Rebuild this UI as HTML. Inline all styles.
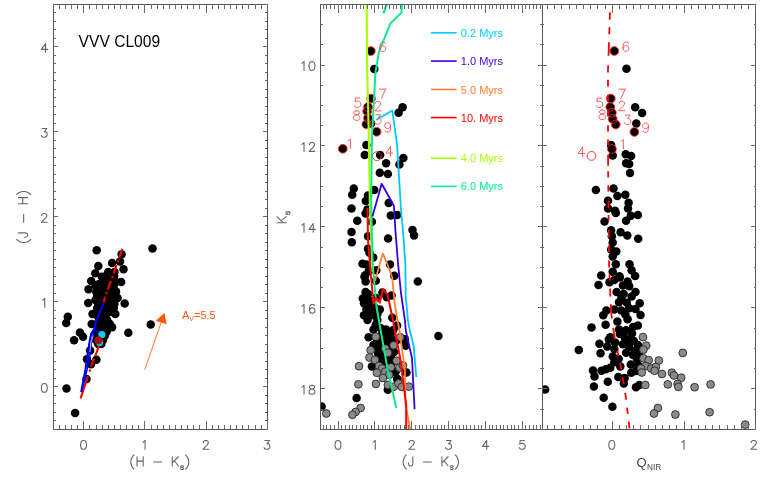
<!DOCTYPE html>
<html><head><meta charset="utf-8"><title>VVV CL009</title>
<style>
html,body{margin:0;padding:0;background:#fff;}
body{width:763px;height:477px;overflow:hidden;font-family:"Liberation Sans",sans-serif;}
svg{display:block;will-change:transform;font-family:"Liberation Sans",sans-serif;}
</style></head><body>
<svg width="763" height="477" viewBox="0 0 763 477">
<rect width="763" height="477" fill="#fff"/>
<clipPath id="c1"><rect x="53.30" y="4.40" width="213.70" height="424.90"/></clipPath>
<clipPath id="c2"><rect x="320.5" y="4.40" width="221.5" height="424.90"/></clipPath>
<clipPath id="c3"><rect x="542" y="4.40" width="213.8" height="424.90"/></clipPath>
<g clip-path="url(#c1)">
<g fill="#000"><circle cx="96.7" cy="250.3" r="4.25"/><circle cx="152.5" cy="248.4" r="4.25"/><circle cx="121.6" cy="254.2" r="4.25"/><circle cx="120.0" cy="261.4" r="4.25"/><circle cx="112.1" cy="263.0" r="4.25"/><circle cx="98.3" cy="266.0" r="4.25"/><circle cx="123.5" cy="269.3" r="4.25"/><circle cx="95.3" cy="273.2" r="4.25"/><circle cx="108.2" cy="272.0" r="4.25"/><circle cx="114.5" cy="272.0" r="4.25"/><circle cx="101.9" cy="276.7" r="4.25"/><circle cx="91.2" cy="280.9" r="4.25"/><circle cx="121.1" cy="281.9" r="4.25"/><circle cx="88.5" cy="289.3" r="4.25"/><circle cx="95.6" cy="285.3" r="4.25"/><circle cx="97.2" cy="294.8" r="4.25"/><circle cx="88.2" cy="302.9" r="4.25"/><circle cx="124.7" cy="303.5" r="4.25"/><circle cx="116.0" cy="291.6" r="4.25"/><circle cx="117.6" cy="298.0" r="4.25"/><circle cx="67.8" cy="316.7" r="4.25"/><circle cx="66.2" cy="323.0" r="4.25"/><circle cx="150.7" cy="324.6" r="4.25"/><circle cx="128.3" cy="332.7" r="4.25"/><circle cx="79.9" cy="332.4" r="4.25"/><circle cx="83.0" cy="336.7" r="4.25"/><circle cx="74.1" cy="340.3" r="4.25"/><circle cx="115.3" cy="313.9" r="4.25"/><circle cx="112.1" cy="327.2" r="4.25"/><circle cx="92.5" cy="313.9" r="4.25"/><circle cx="91.7" cy="324.1" r="4.25"/><circle cx="90.1" cy="350.4" r="4.25"/><circle cx="87.0" cy="359.3" r="4.25"/><circle cx="96.4" cy="359.8" r="4.25"/><circle cx="91.0" cy="364.2" r="4.25"/><circle cx="66.5" cy="388.5" r="4.25"/><circle cx="75.1" cy="412.9" r="4.25"/><circle cx="86.5" cy="379.1" r="4.25"/><circle cx="106.0" cy="276.0" r="4.25"/><circle cx="110.0" cy="276.0" r="4.25"/><circle cx="114.0" cy="276.0" r="4.25"/><circle cx="114.0" cy="276.0" r="4.25"/><circle cx="104.5" cy="280.0" r="4.25"/><circle cx="108.5" cy="280.0" r="4.25"/><circle cx="112.5" cy="280.0" r="4.25"/><circle cx="114.3" cy="280.0" r="4.25"/><circle cx="99.0" cy="284.0" r="4.25"/><circle cx="103.0" cy="284.0" r="4.25"/><circle cx="107.0" cy="284.0" r="4.25"/><circle cx="111.0" cy="284.0" r="4.25"/><circle cx="114.2" cy="284.0" r="4.25"/><circle cx="99.3" cy="288.0" r="4.25"/><circle cx="103.3" cy="288.0" r="4.25"/><circle cx="107.3" cy="288.0" r="4.25"/><circle cx="111.3" cy="288.0" r="4.25"/><circle cx="113.5" cy="288.0" r="4.25"/><circle cx="96.3" cy="292.0" r="4.25"/><circle cx="100.3" cy="292.0" r="4.25"/><circle cx="104.3" cy="292.0" r="4.25"/><circle cx="108.3" cy="292.0" r="4.25"/><circle cx="112.3" cy="292.0" r="4.25"/><circle cx="112.8" cy="292.0" r="4.25"/><circle cx="97.9" cy="296.0" r="4.25"/><circle cx="101.9" cy="296.0" r="4.25"/><circle cx="105.9" cy="296.0" r="4.25"/><circle cx="109.9" cy="296.0" r="4.25"/><circle cx="112.8" cy="296.0" r="4.25"/><circle cx="95.5" cy="300.0" r="4.25"/><circle cx="99.5" cy="300.0" r="4.25"/><circle cx="103.5" cy="300.0" r="4.25"/><circle cx="107.5" cy="300.0" r="4.25"/><circle cx="111.5" cy="300.0" r="4.25"/><circle cx="113.4" cy="300.0" r="4.25"/><circle cx="98.3" cy="304.0" r="4.25"/><circle cx="102.3" cy="304.0" r="4.25"/><circle cx="106.3" cy="304.0" r="4.25"/><circle cx="110.3" cy="304.0" r="4.25"/><circle cx="114.3" cy="304.0" r="4.25"/><circle cx="114.0" cy="304.0" r="4.25"/><circle cx="97.2" cy="308.0" r="4.25"/><circle cx="101.2" cy="308.0" r="4.25"/><circle cx="105.2" cy="308.0" r="4.25"/><circle cx="109.2" cy="308.0" r="4.25"/><circle cx="113.2" cy="308.0" r="4.25"/><circle cx="113.6" cy="308.0" r="4.25"/><circle cx="100.0" cy="312.0" r="4.25"/><circle cx="104.0" cy="312.0" r="4.25"/><circle cx="108.0" cy="312.0" r="4.25"/><circle cx="112.0" cy="312.0" r="4.25"/><circle cx="113.1" cy="312.0" r="4.25"/><circle cx="97.6" cy="316.0" r="4.25"/><circle cx="101.6" cy="316.0" r="4.25"/><circle cx="105.6" cy="316.0" r="4.25"/><circle cx="99.2" cy="320.0" r="4.25"/><circle cx="103.2" cy="320.0" r="4.25"/><circle cx="107.2" cy="320.0" r="4.25"/><circle cx="96.8" cy="324.0" r="4.25"/><circle cx="100.8" cy="324.0" r="4.25"/><circle cx="104.8" cy="324.0" r="4.25"/><circle cx="108.8" cy="324.0" r="4.25"/><circle cx="109.9" cy="324.0" r="4.25"/><circle cx="98.2" cy="328.0" r="4.25"/><circle cx="102.2" cy="328.0" r="4.25"/><circle cx="106.2" cy="328.0" r="4.25"/><circle cx="108.5" cy="328.0" r="4.25"/><circle cx="96.0" cy="332.0" r="4.25"/><circle cx="100.0" cy="332.0" r="4.25"/><circle cx="104.0" cy="332.0" r="4.25"/><circle cx="106.5" cy="332.0" r="4.25"/><circle cx="98.0" cy="336.0" r="4.25"/><circle cx="102.0" cy="336.0" r="4.25"/><circle cx="104.6" cy="336.0" r="4.25"/><circle cx="96.0" cy="340.0" r="4.25"/><circle cx="100.0" cy="340.0" r="4.25"/><circle cx="103.0" cy="340.0" r="4.25"/><circle cx="98.3" cy="344.0" r="4.25"/><circle cx="101.3" cy="344.0" r="4.25"/></g>
<polyline points="122.3,248.8 112.9,275.6 105.4,296.0 103.7,302.3" fill="none" stroke="#ff0000" stroke-width="2.1" stroke-dasharray="9 3 2 3"/>
<polyline points="99.3,345.0 98.8,346.3 95.6,355.0 92.5,362.6 80.6,398.4" fill="none" stroke="#ff0000" stroke-width="2.1" stroke-dasharray="11.5 3.2 8.3 3 2.5 4.9 30"/>
<polyline points="103.5,302.9 95.6,323.0 94.3,329.9 91.2,333.7 89.9,340.0 87.4,356.0 85.4,370.0 81.2,392.1" fill="none" stroke="#0000ff" stroke-width="2.1" stroke-linejoin="round"/>
<polyline points="100.0,332.4 94.3,329.9 91.8,340.0 89.9,356.0 87.0,370.0 81.6,392.1" fill="none" stroke="#0000ff" stroke-width="1.4" stroke-linejoin="round"/>
<polyline points="92.6,336.5 91.0,343 89.8,352" fill="none" stroke="#c4c8ff" stroke-width="0.9"/>
<g fill="#10c8f0"><circle cx="101.9" cy="334.6" r="3.60"/><circle cx="99.5" cy="342.4" r="3.60"/></g>
<g fill="#a01414"><circle cx="98.4" cy="340.3" r="4.15"/></g>
</g>
<line x1="144.8" y1="369.7" x2="161.2" y2="322.2" stroke="#ff6a20" stroke-width="0.9"/>
<polygon points="164.4,313.1 155.7,320.7 166.7,324.3" fill="#ff5a10"/>
<text x="182" y="319.2" font-size="11" fill="#ff5a10">A<tspan font-size="7" dy="2.2">V</tspan><tspan dy="-2.2">=5.5</tspan></text>
<text x="78.6" y="47" font-size="15.6" fill="#000">VVV CL009</text>
<g clip-path="url(#c2)">
<g fill="#000"><circle cx="370.8" cy="51.1" r="4.25"/><circle cx="374.3" cy="68.9" r="4.25"/><circle cx="371.1" cy="98.6" r="4.25"/><circle cx="368.0" cy="107.0" r="4.25"/><circle cx="367.2" cy="111.2" r="4.25"/><circle cx="368.0" cy="118.0" r="4.25"/><circle cx="366.4" cy="124.3" r="4.25"/><circle cx="371.1" cy="123.5" r="4.25"/><circle cx="376.6" cy="131.8" r="4.25"/><circle cx="402.6" cy="107.3" r="4.25"/><circle cx="398.6" cy="112.8" r="4.25"/><circle cx="342.8" cy="148.8" r="4.25"/><circle cx="366.4" cy="145.0" r="4.25"/><circle cx="364.8" cy="155.1" r="4.25"/><circle cx="380.2" cy="155.1" r="4.25"/><circle cx="386.1" cy="163.3" r="4.25"/><circle cx="403.4" cy="158.1" r="4.25"/><circle cx="399.4" cy="164.6" r="4.25"/><circle cx="379.8" cy="172.7" r="4.25"/><circle cx="387.9" cy="174.0" r="4.25"/><circle cx="353.8" cy="188.5" r="4.25"/><circle cx="352.2" cy="194.8" r="4.25"/><circle cx="374.3" cy="190.0" r="4.25"/><circle cx="368.0" cy="195.6" r="4.25"/><circle cx="365.8" cy="200.9" r="4.25"/><circle cx="388.7" cy="203.0" r="4.25"/><circle cx="351.5" cy="208.4" r="4.25"/><circle cx="367.4" cy="209.6" r="4.25"/><circle cx="365.6" cy="213.4" r="4.25"/><circle cx="390.8" cy="215.4" r="4.25"/><circle cx="397.1" cy="214.9" r="4.25"/><circle cx="357.3" cy="220.8" r="4.25"/><circle cx="371.9" cy="221.7" r="4.25"/><circle cx="351.5" cy="231.9" r="4.25"/><circle cx="368.0" cy="236.2" r="4.25"/><circle cx="388.1" cy="238.5" r="4.25"/><circle cx="412.5" cy="229.9" r="4.25"/><circle cx="414.1" cy="235.4" r="4.25"/><circle cx="351.8" cy="242.2" r="4.25"/><circle cx="368.0" cy="248.8" r="4.25"/><circle cx="369.5" cy="252.7" r="4.25"/><circle cx="373.2" cy="257.4" r="4.25"/><circle cx="362.5" cy="263.7" r="4.25"/><circle cx="366.4" cy="264.5" r="4.25"/><circle cx="390.0" cy="264.6" r="4.25"/><circle cx="368.8" cy="270.9" r="4.25"/><circle cx="376.3" cy="270.2" r="4.25"/><circle cx="365.2" cy="275.2" r="4.25"/><circle cx="394.3" cy="275.8" r="4.25"/><circle cx="364.5" cy="276.8" r="4.25"/><circle cx="365.6" cy="281.5" r="4.25"/><circle cx="375.8" cy="280.7" r="4.25"/><circle cx="417.8" cy="281.5" r="4.25"/><circle cx="365.6" cy="292.1" r="4.25"/><circle cx="368.0" cy="294.1" r="4.25"/><circle cx="382.4" cy="292.5" r="4.25"/><circle cx="391.6" cy="295.4" r="4.25"/><circle cx="386.8" cy="297.2" r="4.25"/><circle cx="375.8" cy="298.0" r="4.25"/><circle cx="364.0" cy="303.2" r="4.25"/><circle cx="368.0" cy="304.3" r="4.25"/><circle cx="371.1" cy="301.2" r="4.25"/><circle cx="366.4" cy="309.0" r="4.25"/><circle cx="374.3" cy="306.7" r="4.25"/><circle cx="379.8" cy="309.5" r="4.25"/><circle cx="364.0" cy="315.3" r="4.25"/><circle cx="371.1" cy="315.3" r="4.25"/><circle cx="377.4" cy="313.8" r="4.25"/><circle cx="392.3" cy="317.7" r="4.25"/><circle cx="377.4" cy="320.0" r="4.25"/><circle cx="375.8" cy="324.8" r="4.25"/><circle cx="397.1" cy="325.6" r="4.25"/><circle cx="373.5" cy="329.5" r="4.25"/><circle cx="386.1" cy="329.5" r="4.25"/><circle cx="380.6" cy="327.9" r="4.25"/><circle cx="393.1" cy="330.3" r="4.25"/><circle cx="368.6" cy="337.2" r="4.25"/><circle cx="389.2" cy="337.8" r="4.25"/><circle cx="404.9" cy="339.2" r="4.25"/><circle cx="438.4" cy="335.9" r="4.25"/><circle cx="405.7" cy="345.7" r="4.25"/><circle cx="373.5" cy="344.9" r="4.25"/><circle cx="379.8" cy="347.3" r="4.25"/><circle cx="378.2" cy="353.6" r="4.25"/><circle cx="382.9" cy="356.7" r="4.25"/><circle cx="390.8" cy="356.7" r="4.25"/><circle cx="371.9" cy="366.6" r="4.25"/><circle cx="386.1" cy="363.8" r="4.25"/><circle cx="395.5" cy="371.7" r="4.25"/><circle cx="406.5" cy="372.5" r="4.25"/><circle cx="397.1" cy="378.8" r="4.25"/><circle cx="387.8" cy="389.8" r="4.25"/><circle cx="356.6" cy="398.0" r="4.25"/><circle cx="321.6" cy="406.5" r="4.25"/><circle cx="384.0" cy="341.0" r="4.25"/><circle cx="382.0" cy="334.0" r="4.25"/><circle cx="389.0" cy="345.0" r="4.25"/><circle cx="385.0" cy="351.0" r="4.25"/><circle cx="394.0" cy="352.0" r="4.25"/><circle cx="377.0" cy="340.0" r="4.25"/><circle cx="381.0" cy="345.0" r="4.25"/><circle cx="388.0" cy="341.0" r="4.25"/><circle cx="383.0" cy="350.0" r="4.25"/><circle cx="387.0" cy="347.0" r="4.25"/><circle cx="379.0" cy="356.0" r="4.25"/><circle cx="383.0" cy="357.0" r="4.25"/><circle cx="387.0" cy="360.0" r="4.25"/><circle cx="391.0" cy="353.0" r="4.25"/><circle cx="380.0" cy="362.0" r="4.25"/><circle cx="385.0" cy="364.0" r="4.25"/><circle cx="377.0" cy="347.0" r="4.25"/><circle cx="392.0" cy="339.0" r="4.25"/><circle cx="396.0" cy="341.0" r="4.25"/><circle cx="391.0" cy="333.0" r="4.25"/><circle cx="386.0" cy="334.0" r="4.25"/><circle cx="404.0" cy="341.0" r="4.25"/><circle cx="395.2" cy="372.0" r="4.25"/><circle cx="397.4" cy="379.3" r="4.25"/><circle cx="389.0" cy="366.0" r="4.25"/><circle cx="393.0" cy="362.0" r="4.25"/><circle cx="366.5" cy="298.5" r="4.25"/><circle cx="369.5" cy="310.5" r="4.25"/><circle cx="367.5" cy="320.0" r="4.25"/><circle cx="371.0" cy="308.0" r="4.25"/><circle cx="362.8" cy="298.5" r="4.25"/><circle cx="376.0" cy="316.0" r="4.25"/></g>
<g fill="#8a8a8a" stroke="#1a1a1a" stroke-width="0.8"><circle cx="375.8" cy="336.7" r="3.90"/><circle cx="400.2" cy="337.2" r="3.90"/><circle cx="393.6" cy="345.3" r="3.90"/><circle cx="370.6" cy="350.1" r="3.90"/><circle cx="385.3" cy="348.6" r="3.90"/><circle cx="387.9" cy="352.8" r="3.90"/><circle cx="369.5" cy="357.5" r="3.90"/><circle cx="375.0" cy="359.9" r="3.90"/><circle cx="396.6" cy="360.7" r="3.90"/><circle cx="359.0" cy="366.2" r="3.90"/><circle cx="379.0" cy="365.9" r="3.90"/><circle cx="382.1" cy="368.5" r="3.90"/><circle cx="390.8" cy="367.3" r="3.90"/><circle cx="399.4" cy="367.7" r="3.90"/><circle cx="403.0" cy="365.4" r="3.90"/><circle cx="376.9" cy="372.8" r="3.90"/><circle cx="385.3" cy="371.7" r="3.90"/><circle cx="389.2" cy="374.8" r="3.90"/><circle cx="382.9" cy="378.0" r="3.90"/><circle cx="358.4" cy="384.3" r="3.90"/><circle cx="375.9" cy="383.9" r="3.90"/><circle cx="387.9" cy="385.0" r="3.90"/><circle cx="393.9" cy="386.6" r="3.90"/><circle cx="398.6" cy="383.5" r="3.90"/><circle cx="401.8" cy="386.9" r="3.90"/><circle cx="408.9" cy="386.6" r="3.90"/><circle cx="326.3" cy="413.5" r="3.90"/><circle cx="360.6" cy="408.0" r="3.90"/><circle cx="355.6" cy="412.0" r="3.90"/><circle cx="352.4" cy="414.8" r="3.90"/></g>
<g fill="none" stroke="#ff2020" stroke-width="0.9"><circle cx="370.8" cy="51.1" r="4.40"/><circle cx="371.1" cy="98.6" r="4.40"/><circle cx="368.0" cy="107.0" r="4.40"/><circle cx="367.2" cy="111.2" r="4.40"/><circle cx="368.0" cy="118.0" r="4.40"/><circle cx="366.4" cy="124.3" r="4.40"/><circle cx="376.6" cy="131.8" r="4.40"/><circle cx="342.8" cy="148.8" r="4.40"/><circle cx="376.9" cy="156.2" r="4.40"/></g>
<polyline points="366.7,4.4 367.2,70.0 368.8,135.0 369.8,200.0 372.4,272.0" fill="none" stroke="#aaff00" stroke-width="2.1" stroke-linejoin="round"/>
<polyline points="386.8,4.4 383.4,13.4" fill="none" stroke="#10e88c" stroke-width="2.3" stroke-linejoin="round"/>
<polyline points="401.8,4.4 401.5,12.6 390.3,23.6 379.0,51.9 375.5,72.0 372.0,135.0 371.1,200.0 372.7,265.0 376.6,307.5 380.6,330.0 387.6,369.3 396.3,408.0" fill="none" stroke="#10e88c" stroke-width="2.0" stroke-linejoin="round"/>
<polyline points="376.1,120.0 392.3,110.4 397.1,145.0 401.0,210.0 403.4,236.2 405.4,265.0 405.7,296.5 408.1,321.6 409.7,330.0 413.6,345.7 416.3,377.2" fill="none" stroke="#00c8ff" stroke-width="1.8" stroke-linejoin="round"/>
<polyline points="372.4,216.5 381.7,183.8 393.9,205.8 395.5,231.5 397.1,251.9 398.2,265.0 401.0,293.3 404.9,320.0 405.7,330.0 412.0,358.3 414.4,405.0 414.6,409.3" fill="none" stroke="#3a00e0" stroke-width="1.8" stroke-linejoin="round"/>
<polyline points="375.0,280.7 379.5,265.0 382.9,253.5 387.6,265.0 392.3,277.6 394.7,304.3 399.4,330.0 404.9,369.3 405.4,403.3 410.2,429.3" fill="none" stroke="#ff8030" stroke-width="1.8" stroke-linejoin="round"/>
<polyline points="367.5,207.9 368.0,239.3 370.0,265.0 373.5,303.5 375.8,298.0 379.8,302.7 382.9,289.4 387.6,294.9 393.0,320.0 394.7,330.0 400.2,358.3 406.2,405.0 406.2,429.3" fill="none" stroke="#ff0000" stroke-width="2.0" stroke-linejoin="round"/>
</g>
<path d="M385.30 43.50 L384.85 42.60 L383.50 42.15 L382.60 42.15 L381.25 42.60 L380.35 43.95 L379.90 46.20 L379.90 48.45 L380.35 50.25 L381.25 51.15 L382.60 51.60 L383.05 51.60 L384.40 51.15 L385.30 50.25 L385.75 48.90 L385.75 48.45 L385.30 47.10 L384.40 46.20 L383.05 45.75 L382.60 45.75 L381.25 46.20 L380.35 47.10 L379.90 48.45" fill="none" stroke="#ff4848" stroke-width="0.9" stroke-linecap="round" stroke-linejoin="round" />
<path d="M385.75 89.15 L381.25 98.60 M379.45 89.15 L385.75 89.15" fill="none" stroke="#ff4848" stroke-width="0.9" stroke-linecap="round" stroke-linejoin="round" />
<path d="M375.20 103.70 L375.20 103.25 L375.65 102.35 L376.10 101.90 L377.00 101.45 L378.80 101.45 L379.70 101.90 L380.15 102.35 L380.60 103.25 L380.60 104.15 L380.15 105.05 L379.25 106.40 L374.75 110.90 L381.05 110.90" fill="none" stroke="#ff4848" stroke-width="0.9" stroke-linecap="round" stroke-linejoin="round" />
<path d="M359.95 97.95 L355.45 97.95 L355.00 102.00 L355.45 101.55 L356.80 101.10 L358.15 101.10 L359.50 101.55 L360.40 102.45 L360.85 103.80 L360.85 104.70 L360.40 106.05 L359.50 106.95 L358.15 107.40 L356.80 107.40 L355.45 106.95 L355.00 106.50 L354.55 105.60" fill="none" stroke="#ff4848" stroke-width="0.9" stroke-linecap="round" stroke-linejoin="round" />
<path d="M355.70 110.85 L354.35 111.30 L353.90 112.20 L353.90 113.10 L354.35 114.00 L355.25 114.45 L357.05 114.90 L358.40 115.35 L359.30 116.25 L359.75 117.15 L359.75 118.50 L359.30 119.40 L358.85 119.85 L357.50 120.30 L355.70 120.30 L354.35 119.85 L353.90 119.40 L353.45 118.50 L353.45 117.15 L353.90 116.25 L354.80 115.35 L356.15 114.90 L357.95 114.45 L358.85 114.00 L359.30 113.10 L359.30 112.20 L358.85 111.30 L357.50 110.85 L355.70 110.85" fill="none" stroke="#ff4848" stroke-width="0.9" stroke-linecap="round" stroke-linejoin="round" />
<path d="M375.65 114.75 L380.60 114.75 L377.90 118.35 L379.25 118.35 L380.15 118.80 L380.60 119.25 L381.05 120.60 L381.05 121.50 L380.60 122.85 L379.70 123.75 L378.35 124.20 L377.00 124.20 L375.65 123.75 L375.20 123.30 L374.75 122.40" fill="none" stroke="#ff4848" stroke-width="0.9" stroke-linecap="round" stroke-linejoin="round" />
<path d="M390.60 125.80 L390.15 127.15 L389.25 128.05 L387.90 128.50 L387.45 128.50 L386.10 128.05 L385.20 127.15 L384.75 125.80 L384.75 125.35 L385.20 124.00 L386.10 123.10 L387.45 122.65 L387.90 122.65 L389.25 123.10 L390.15 124.00 L390.60 125.80 L390.60 128.05 L390.15 130.30 L389.25 131.65 L387.90 132.10 L387.00 132.10 L385.65 131.65 L385.20 130.75" fill="none" stroke="#ff4848" stroke-width="0.9" stroke-linecap="round" stroke-linejoin="round" />
<path d="M348.20 140.65 L349.10 140.20 L350.45 138.85 L350.45 148.30" fill="none" stroke="#ff4848" stroke-width="0.9" stroke-linecap="round" stroke-linejoin="round" />
<path d="M390.55 146.75 L386.05 153.05 L392.80 153.05 M390.55 146.75 L390.55 156.20" fill="none" stroke="#ff4848" stroke-width="0.9" stroke-linecap="round" stroke-linejoin="round" />
<line x1="431" y1="32.8" x2="456.6" y2="32.8" stroke="#00ccff" stroke-width="1.6"/>
<text x="460.8" y="36.8" font-size="11" fill="#00ccff">0.2 Myrs</text>
<line x1="431" y1="61.1" x2="456.6" y2="61.1" stroke="#3a00e0" stroke-width="1.6"/>
<text x="460.8" y="65.1" font-size="11" fill="#3a00e0">1.0 Myrs</text>
<line x1="431" y1="89.5" x2="456.6" y2="89.5" stroke="#ff8030" stroke-width="1.6"/>
<text x="460.8" y="93.5" font-size="11" fill="#ff8030">5.0 Myrs</text>
<line x1="431" y1="117.6" x2="456.6" y2="117.6" stroke="#ff0000" stroke-width="1.6"/>
<text x="460.8" y="121.6" font-size="11" fill="#ff0000">10. Myrs</text>
<line x1="431" y1="158.2" x2="456.6" y2="158.2" stroke="#aaff00" stroke-width="1.6"/>
<text x="460.8" y="162.2" font-size="11" fill="#aaff00">4.0 Myrs</text>
<line x1="431" y1="186.4" x2="456.6" y2="186.4" stroke="#00ee90" stroke-width="1.6"/>
<text x="460.8" y="190.4" font-size="11" fill="#00ee90">6.0 Myrs</text>
<g clip-path="url(#c3)">
<g fill="#000"><circle cx="614.3" cy="51.0" r="4.25"/><circle cx="626.5" cy="68.8" r="4.25"/><circle cx="610.8" cy="98.6" r="4.25"/><circle cx="610.3" cy="106.9" r="4.25"/><circle cx="611.9" cy="112.7" r="4.25"/><circle cx="612.7" cy="119.0" r="4.25"/><circle cx="615.8" cy="124.5" r="4.25"/><circle cx="635.2" cy="107.2" r="4.25"/><circle cx="642.1" cy="113.1" r="4.25"/><circle cx="636.3" cy="123.4" r="4.25"/><circle cx="634.4" cy="131.9" r="4.25"/><circle cx="611.1" cy="145.1" r="4.25"/><circle cx="611.9" cy="149.1" r="4.25"/><circle cx="612.7" cy="155.4" r="4.25"/><circle cx="625.7" cy="154.2" r="4.25"/><circle cx="631.1" cy="155.9" r="4.25"/><circle cx="626.1" cy="163.3" r="4.25"/><circle cx="629.2" cy="164.1" r="4.25"/><circle cx="630.0" cy="173.1" r="4.25"/><circle cx="595.9" cy="190.0" r="4.25"/><circle cx="613.5" cy="188.5" r="4.25"/><circle cx="617.4" cy="196.0" r="4.25"/><circle cx="625.3" cy="194.8" r="4.25"/><circle cx="608.0" cy="200.8" r="4.25"/><circle cx="628.6" cy="202.8" r="4.25"/><circle cx="608.0" cy="208.6" r="4.25"/><circle cx="628.0" cy="208.4" r="4.25"/><circle cx="615.0" cy="210.8" r="4.25"/><circle cx="615.8" cy="212.9" r="4.25"/><circle cx="637.9" cy="214.9" r="4.25"/><circle cx="630.8" cy="215.7" r="4.25"/><circle cx="626.1" cy="220.8" r="4.25"/><circle cx="604.5" cy="221.5" r="4.25"/><circle cx="611.1" cy="230.2" r="4.25"/><circle cx="620.6" cy="232.2" r="4.25"/><circle cx="627.3" cy="235.4" r="4.25"/><circle cx="638.2" cy="238.8" r="4.25"/><circle cx="611.9" cy="236.2" r="4.25"/><circle cx="612.7" cy="242.5" r="4.25"/><circle cx="611.1" cy="249.5" r="4.25"/><circle cx="616.3" cy="251.6" r="4.25"/><circle cx="612.7" cy="256.6" r="4.25"/><circle cx="615.8" cy="264.2" r="4.25"/><circle cx="629.5" cy="264.3" r="4.25"/><circle cx="631.6" cy="270.2" r="4.25"/><circle cx="612.7" cy="271.8" r="4.25"/><circle cx="601.2" cy="275.5" r="4.25"/><circle cx="619.4" cy="276.3" r="4.25"/><circle cx="635.1" cy="275.9" r="4.25"/><circle cx="619.8" cy="277.6" r="4.25"/><circle cx="614.3" cy="279.9" r="4.25"/><circle cx="609.5" cy="282.3" r="4.25"/><circle cx="627.6" cy="281.5" r="4.25"/><circle cx="598.5" cy="285.1" r="4.25"/><circle cx="622.9" cy="285.4" r="4.25"/><circle cx="629.2" cy="286.2" r="4.25"/><circle cx="616.6" cy="292.1" r="4.25"/><circle cx="635.5" cy="292.1" r="4.25"/><circle cx="623.7" cy="294.1" r="4.25"/><circle cx="631.6" cy="296.5" r="4.25"/><circle cx="621.3" cy="298.0" r="4.25"/><circle cx="619.0" cy="302.3" r="4.25"/><circle cx="626.8" cy="302.7" r="4.25"/><circle cx="639.7" cy="303.2" r="4.25"/><circle cx="629.2" cy="308.3" r="4.25"/><circle cx="614.3" cy="309.5" r="4.25"/><circle cx="606.4" cy="310.6" r="4.25"/><circle cx="621.3" cy="310.6" r="4.25"/><circle cx="635.5" cy="309.0" r="4.25"/><circle cx="603.3" cy="315.3" r="4.25"/><circle cx="625.3" cy="314.5" r="4.25"/><circle cx="640.5" cy="315.0" r="4.25"/><circle cx="627.6" cy="319.3" r="4.25"/><circle cx="617.4" cy="321.6" r="4.25"/><circle cx="605.6" cy="324.8" r="4.25"/><circle cx="591.5" cy="327.4" r="4.25"/><circle cx="637.9" cy="325.6" r="4.25"/><circle cx="633.1" cy="327.1" r="4.25"/><circle cx="619.0" cy="329.5" r="4.25"/><circle cx="626.1" cy="330.3" r="4.25"/><circle cx="610.3" cy="337.3" r="4.25"/><circle cx="619.8" cy="334.0" r="4.25"/><circle cx="632.0" cy="333.6" r="4.25"/><circle cx="578.8" cy="350.1" r="4.25"/><circle cx="599.4" cy="343.8" r="4.25"/><circle cx="600.5" cy="353.3" r="4.25"/><circle cx="608.8" cy="339.4" r="4.25"/><circle cx="607.2" cy="346.5" r="4.25"/><circle cx="615.0" cy="342.6" r="4.25"/><circle cx="614.3" cy="348.9" r="4.25"/><circle cx="622.9" cy="344.2" r="4.25"/><circle cx="633.9" cy="341.0" r="4.25"/><circle cx="629.2" cy="347.3" r="4.25"/><circle cx="626.1" cy="352.8" r="4.25"/><circle cx="635.5" cy="350.4" r="4.25"/><circle cx="612.8" cy="356.4" r="4.25"/><circle cx="618.7" cy="359.0" r="4.25"/><circle cx="614.3" cy="362.2" r="4.25"/><circle cx="637.1" cy="359.1" r="4.25"/><circle cx="630.8" cy="364.5" r="4.25"/><circle cx="620.3" cy="366.6" r="4.25"/><circle cx="610.3" cy="367.7" r="4.25"/><circle cx="605.9" cy="369.2" r="4.25"/><circle cx="601.5" cy="370.8" r="4.25"/><circle cx="593.0" cy="370.4" r="4.25"/><circle cx="594.5" cy="376.6" r="4.25"/><circle cx="631.3" cy="372.8" r="4.25"/><circle cx="618.3" cy="377.1" r="4.25"/><circle cx="624.7" cy="378.0" r="4.25"/><circle cx="607.8" cy="381.7" r="4.25"/><circle cx="623.8" cy="383.4" r="4.25"/><circle cx="593.9" cy="386.6" r="4.25"/><circle cx="636.0" cy="387.3" r="4.25"/><circle cx="639.3" cy="384.9" r="4.25"/><circle cx="603.7" cy="397.8" r="4.25"/><circle cx="612.4" cy="406.8" r="4.25"/><circle cx="545.2" cy="389.5" r="4.25"/><circle cx="625.0" cy="338.0" r="4.25"/><circle cx="628.0" cy="340.0" r="4.25"/><circle cx="638.0" cy="345.0" r="4.25"/><circle cx="639.0" cy="353.0" r="4.25"/><circle cx="633.0" cy="355.0" r="4.25"/><circle cx="638.0" cy="365.0" r="4.25"/><circle cx="636.0" cy="371.0" r="4.25"/></g>
<g fill="#8a8a8a" stroke="#1a1a1a" stroke-width="0.8"><circle cx="643.0" cy="337.1" r="3.90"/><circle cx="646.2" cy="345.6" r="3.90"/><circle cx="643.4" cy="349.7" r="3.90"/><circle cx="643.4" cy="358.3" r="3.90"/><circle cx="648.7" cy="360.2" r="3.90"/><circle cx="658.8" cy="360.5" r="3.90"/><circle cx="645.7" cy="366.2" r="3.90"/><circle cx="641.0" cy="368.5" r="3.90"/><circle cx="651.2" cy="368.5" r="3.90"/><circle cx="655.9" cy="367.0" r="3.90"/><circle cx="641.8" cy="372.5" r="3.90"/><circle cx="654.6" cy="370.8" r="3.90"/><circle cx="662.0" cy="374.0" r="3.90"/><circle cx="671.9" cy="372.7" r="3.90"/><circle cx="674.0" cy="375.5" r="3.90"/><circle cx="681.2" cy="377.7" r="3.90"/><circle cx="645.3" cy="385.0" r="3.90"/><circle cx="667.8" cy="384.4" r="3.90"/><circle cx="677.6" cy="384.0" r="3.90"/><circle cx="678.4" cy="386.9" r="3.90"/><circle cx="694.6" cy="387.2" r="3.90"/><circle cx="710.6" cy="384.4" r="3.90"/><circle cx="682.8" cy="352.9" r="3.90"/><circle cx="657.9" cy="408.0" r="3.90"/><circle cx="654.0" cy="413.5" r="3.90"/><circle cx="675.4" cy="414.5" r="3.90"/><circle cx="709.6" cy="412.2" r="3.90"/><circle cx="745.2" cy="424.6" r="3.90"/></g>
<g fill="none" stroke="#ff2020" stroke-width="0.9"><circle cx="614.3" cy="51.0" r="4.40"/><circle cx="610.8" cy="98.6" r="4.40"/><circle cx="610.3" cy="106.9" r="4.40"/><circle cx="611.9" cy="112.7" r="4.40"/><circle cx="612.7" cy="119.0" r="4.40"/><circle cx="615.8" cy="124.5" r="4.40"/><circle cx="634.4" cy="131.9" r="4.40"/><circle cx="611.9" cy="149.0" r="4.40"/><circle cx="591.5" cy="155.9" r="4.40"/></g>
<path d="M610.00 12.30 L609.74 19.70 M609.49 27.10 L609.24 34.30 M608.96 42.20 L608.49 55.80 M608.16 65.30 L608.00 70.00 L608.00 72.40 M608.00 79.70 L608.00 86.80 M608.00 94.70 L608.00 101.50 M608.00 109.50 L608.00 116.50 M608.00 125.30 L608.00 131.60 M608.00 139.60 L608.00 145.00 M608.04 154.70 L608.13 165.70 M608.17 171.20 L608.22 177.50 M608.28 185.30 L608.33 191.60 M608.41 200.50 L608.49 208.50 M608.56 214.90 L608.62 220.40 M608.72 229.90 L608.81 237.70 M608.89 245.60 L608.96 251.90 M609.05 260.60 L609.10 265.00 L609.21 267.50 M609.50 274.40 L609.77 280.70 M610.10 288.60 L610.30 293.30 L610.44 296.50 M610.77 304.30 L611.10 312.20 L611.95 318.50 M613.23 327.90 L614.30 335.80 L615.00 339.20 M617.33 350.40 L618.49 356.00 M619.94 363.00 L620.60 366.20 L621.16 369.30 M622.57 377.20 L623.70 383.50 L623.82 384.30 M625.14 392.90 L626.10 399.20 L626.15 399.60 M627.07 407.60 L627.80 413.90 M628.69 421.50 L629.51 428.50" fill="none" stroke="#ff0000" stroke-width="1.8"/>
</g>
<path d="M628.40 43.30 L627.95 42.40 L626.60 41.95 L625.70 41.95 L624.35 42.40 L623.45 43.75 L623.00 46.00 L623.00 48.25 L623.45 50.05 L624.35 50.95 L625.70 51.40 L626.15 51.40 L627.50 50.95 L628.40 50.05 L628.85 48.70 L628.85 48.25 L628.40 46.90 L627.50 46.00 L626.15 45.55 L625.70 45.55 L624.35 46.00 L623.45 46.90 L623.00 48.25" fill="none" stroke="#ff4848" stroke-width="0.9" stroke-linecap="round" stroke-linejoin="round" />
<path d="M625.25 89.15 L620.75 98.60 M618.95 89.15 L625.25 89.15" fill="none" stroke="#ff4848" stroke-width="0.9" stroke-linecap="round" stroke-linejoin="round" />
<path d="M601.85 98.05 L597.35 98.05 L596.90 102.10 L597.35 101.65 L598.70 101.20 L600.05 101.20 L601.40 101.65 L602.30 102.55 L602.75 103.90 L602.75 104.80 L602.30 106.15 L601.40 107.05 L600.05 107.50 L598.70 107.50 L597.35 107.05 L596.90 106.60 L596.45 105.70" fill="none" stroke="#ff4848" stroke-width="0.9" stroke-linecap="round" stroke-linejoin="round" />
<path d="M619.10 103.50 L619.10 103.05 L619.55 102.15 L620.00 101.70 L620.90 101.25 L622.70 101.25 L623.60 101.70 L624.05 102.15 L624.50 103.05 L624.50 103.95 L624.05 104.85 L623.15 106.20 L618.65 110.70 L624.95 110.70" fill="none" stroke="#ff4848" stroke-width="0.9" stroke-linecap="round" stroke-linejoin="round" />
<path d="M601.30 110.05 L599.95 110.50 L599.50 111.40 L599.50 112.30 L599.95 113.20 L600.85 113.65 L602.65 114.10 L604.00 114.55 L604.90 115.45 L605.35 116.35 L605.35 117.70 L604.90 118.60 L604.45 119.05 L603.10 119.50 L601.30 119.50 L599.95 119.05 L599.50 118.60 L599.05 117.70 L599.05 116.35 L599.50 115.45 L600.40 114.55 L601.75 114.10 L603.55 113.65 L604.45 113.20 L604.90 112.30 L604.90 111.40 L604.45 110.50 L603.10 110.05 L601.30 110.05" fill="none" stroke="#ff4848" stroke-width="0.9" stroke-linecap="round" stroke-linejoin="round" />
<path d="M625.35 115.05 L630.30 115.05 L627.60 118.65 L628.95 118.65 L629.85 119.10 L630.30 119.55 L630.75 120.90 L630.75 121.80 L630.30 123.15 L629.40 124.05 L628.05 124.50 L626.70 124.50 L625.35 124.05 L624.90 123.60 L624.45 122.70" fill="none" stroke="#ff4848" stroke-width="0.9" stroke-linecap="round" stroke-linejoin="round" />
<path d="M648.40 126.10 L647.95 127.45 L647.05 128.35 L645.70 128.80 L645.25 128.80 L643.90 128.35 L643.00 127.45 L642.55 126.10 L642.55 125.65 L643.00 124.30 L643.90 123.40 L645.25 122.95 L645.70 122.95 L647.05 123.40 L647.95 124.30 L648.40 126.10 L648.40 128.35 L647.95 130.60 L647.05 131.95 L645.70 132.40 L644.80 132.40 L643.45 131.95 L643.00 131.05" fill="none" stroke="#ff4848" stroke-width="0.9" stroke-linecap="round" stroke-linejoin="round" />
<path d="M621.10 141.15 L622.00 140.70 L623.35 139.35 L623.35 148.80" fill="none" stroke="#ff4848" stroke-width="0.9" stroke-linecap="round" stroke-linejoin="round" />
<path d="M582.55 147.25 L578.05 153.55 L584.80 153.55 M582.55 147.25 L582.55 156.70" fill="none" stroke="#ff4848" stroke-width="0.9" stroke-linecap="round" stroke-linejoin="round" />
<rect x="53.30" y="4.40" width="213.70" height="424.90" fill="none" stroke="#555" stroke-width="1" shape-rendering="crispEdges"/>
<rect x="320.50" y="4.40" width="221.50" height="424.90" fill="none" stroke="#555" stroke-width="1" shape-rendering="crispEdges"/>
<rect x="542.00" y="4.40" width="213.80" height="424.90" fill="none" stroke="#555" stroke-width="1" shape-rendering="crispEdges"/>
<line x1="53.22" y1="429.30" x2="53.22" y2="424.90" stroke="#6a6a6a" stroke-width="1" shape-rendering="crispEdges"/>
<line x1="53.22" y1="4.40" x2="53.22" y2="8.80" stroke="#6a6a6a" stroke-width="1" shape-rendering="crispEdges"/>
<line x1="59.34" y1="429.30" x2="59.34" y2="424.90" stroke="#6a6a6a" stroke-width="1" shape-rendering="crispEdges"/>
<line x1="59.34" y1="4.40" x2="59.34" y2="8.80" stroke="#6a6a6a" stroke-width="1" shape-rendering="crispEdges"/>
<line x1="65.45" y1="429.30" x2="65.45" y2="424.90" stroke="#6a6a6a" stroke-width="1" shape-rendering="crispEdges"/>
<line x1="65.45" y1="4.40" x2="65.45" y2="8.80" stroke="#6a6a6a" stroke-width="1" shape-rendering="crispEdges"/>
<line x1="71.57" y1="429.30" x2="71.57" y2="424.90" stroke="#6a6a6a" stroke-width="1" shape-rendering="crispEdges"/>
<line x1="71.57" y1="4.40" x2="71.57" y2="8.80" stroke="#6a6a6a" stroke-width="1" shape-rendering="crispEdges"/>
<line x1="77.69" y1="429.30" x2="77.69" y2="424.90" stroke="#6a6a6a" stroke-width="1" shape-rendering="crispEdges"/>
<line x1="77.69" y1="4.40" x2="77.69" y2="8.80" stroke="#6a6a6a" stroke-width="1" shape-rendering="crispEdges"/>
<line x1="83.80" y1="429.30" x2="83.80" y2="420.70" stroke="#6a6a6a" stroke-width="1" shape-rendering="crispEdges"/>
<line x1="83.80" y1="4.40" x2="83.80" y2="13.00" stroke="#6a6a6a" stroke-width="1" shape-rendering="crispEdges"/>
<line x1="89.91" y1="429.30" x2="89.91" y2="424.90" stroke="#6a6a6a" stroke-width="1" shape-rendering="crispEdges"/>
<line x1="89.91" y1="4.40" x2="89.91" y2="8.80" stroke="#6a6a6a" stroke-width="1" shape-rendering="crispEdges"/>
<line x1="96.03" y1="429.30" x2="96.03" y2="424.90" stroke="#6a6a6a" stroke-width="1" shape-rendering="crispEdges"/>
<line x1="96.03" y1="4.40" x2="96.03" y2="8.80" stroke="#6a6a6a" stroke-width="1" shape-rendering="crispEdges"/>
<line x1="102.14" y1="429.30" x2="102.14" y2="424.90" stroke="#6a6a6a" stroke-width="1" shape-rendering="crispEdges"/>
<line x1="102.14" y1="4.40" x2="102.14" y2="8.80" stroke="#6a6a6a" stroke-width="1" shape-rendering="crispEdges"/>
<line x1="108.26" y1="429.30" x2="108.26" y2="424.90" stroke="#6a6a6a" stroke-width="1" shape-rendering="crispEdges"/>
<line x1="108.26" y1="4.40" x2="108.26" y2="8.80" stroke="#6a6a6a" stroke-width="1" shape-rendering="crispEdges"/>
<line x1="114.38" y1="429.30" x2="114.38" y2="424.90" stroke="#6a6a6a" stroke-width="1" shape-rendering="crispEdges"/>
<line x1="114.38" y1="4.40" x2="114.38" y2="8.80" stroke="#6a6a6a" stroke-width="1" shape-rendering="crispEdges"/>
<line x1="120.49" y1="429.30" x2="120.49" y2="424.90" stroke="#6a6a6a" stroke-width="1" shape-rendering="crispEdges"/>
<line x1="120.49" y1="4.40" x2="120.49" y2="8.80" stroke="#6a6a6a" stroke-width="1" shape-rendering="crispEdges"/>
<line x1="126.60" y1="429.30" x2="126.60" y2="424.90" stroke="#6a6a6a" stroke-width="1" shape-rendering="crispEdges"/>
<line x1="126.60" y1="4.40" x2="126.60" y2="8.80" stroke="#6a6a6a" stroke-width="1" shape-rendering="crispEdges"/>
<line x1="132.72" y1="429.30" x2="132.72" y2="424.90" stroke="#6a6a6a" stroke-width="1" shape-rendering="crispEdges"/>
<line x1="132.72" y1="4.40" x2="132.72" y2="8.80" stroke="#6a6a6a" stroke-width="1" shape-rendering="crispEdges"/>
<line x1="138.84" y1="429.30" x2="138.84" y2="424.90" stroke="#6a6a6a" stroke-width="1" shape-rendering="crispEdges"/>
<line x1="138.84" y1="4.40" x2="138.84" y2="8.80" stroke="#6a6a6a" stroke-width="1" shape-rendering="crispEdges"/>
<line x1="144.95" y1="429.30" x2="144.95" y2="420.70" stroke="#6a6a6a" stroke-width="1" shape-rendering="crispEdges"/>
<line x1="144.95" y1="4.40" x2="144.95" y2="13.00" stroke="#6a6a6a" stroke-width="1" shape-rendering="crispEdges"/>
<line x1="151.06" y1="429.30" x2="151.06" y2="424.90" stroke="#6a6a6a" stroke-width="1" shape-rendering="crispEdges"/>
<line x1="151.06" y1="4.40" x2="151.06" y2="8.80" stroke="#6a6a6a" stroke-width="1" shape-rendering="crispEdges"/>
<line x1="157.18" y1="429.30" x2="157.18" y2="424.90" stroke="#6a6a6a" stroke-width="1" shape-rendering="crispEdges"/>
<line x1="157.18" y1="4.40" x2="157.18" y2="8.80" stroke="#6a6a6a" stroke-width="1" shape-rendering="crispEdges"/>
<line x1="163.30" y1="429.30" x2="163.30" y2="424.90" stroke="#6a6a6a" stroke-width="1" shape-rendering="crispEdges"/>
<line x1="163.30" y1="4.40" x2="163.30" y2="8.80" stroke="#6a6a6a" stroke-width="1" shape-rendering="crispEdges"/>
<line x1="169.41" y1="429.30" x2="169.41" y2="424.90" stroke="#6a6a6a" stroke-width="1" shape-rendering="crispEdges"/>
<line x1="169.41" y1="4.40" x2="169.41" y2="8.80" stroke="#6a6a6a" stroke-width="1" shape-rendering="crispEdges"/>
<line x1="175.53" y1="429.30" x2="175.53" y2="424.90" stroke="#6a6a6a" stroke-width="1" shape-rendering="crispEdges"/>
<line x1="175.53" y1="4.40" x2="175.53" y2="8.80" stroke="#6a6a6a" stroke-width="1" shape-rendering="crispEdges"/>
<line x1="181.64" y1="429.30" x2="181.64" y2="424.90" stroke="#6a6a6a" stroke-width="1" shape-rendering="crispEdges"/>
<line x1="181.64" y1="4.40" x2="181.64" y2="8.80" stroke="#6a6a6a" stroke-width="1" shape-rendering="crispEdges"/>
<line x1="187.75" y1="429.30" x2="187.75" y2="424.90" stroke="#6a6a6a" stroke-width="1" shape-rendering="crispEdges"/>
<line x1="187.75" y1="4.40" x2="187.75" y2="8.80" stroke="#6a6a6a" stroke-width="1" shape-rendering="crispEdges"/>
<line x1="193.87" y1="429.30" x2="193.87" y2="424.90" stroke="#6a6a6a" stroke-width="1" shape-rendering="crispEdges"/>
<line x1="193.87" y1="4.40" x2="193.87" y2="8.80" stroke="#6a6a6a" stroke-width="1" shape-rendering="crispEdges"/>
<line x1="199.99" y1="429.30" x2="199.99" y2="424.90" stroke="#6a6a6a" stroke-width="1" shape-rendering="crispEdges"/>
<line x1="199.99" y1="4.40" x2="199.99" y2="8.80" stroke="#6a6a6a" stroke-width="1" shape-rendering="crispEdges"/>
<line x1="206.10" y1="429.30" x2="206.10" y2="420.70" stroke="#6a6a6a" stroke-width="1" shape-rendering="crispEdges"/>
<line x1="206.10" y1="4.40" x2="206.10" y2="13.00" stroke="#6a6a6a" stroke-width="1" shape-rendering="crispEdges"/>
<line x1="212.21" y1="429.30" x2="212.21" y2="424.90" stroke="#6a6a6a" stroke-width="1" shape-rendering="crispEdges"/>
<line x1="212.21" y1="4.40" x2="212.21" y2="8.80" stroke="#6a6a6a" stroke-width="1" shape-rendering="crispEdges"/>
<line x1="218.33" y1="429.30" x2="218.33" y2="424.90" stroke="#6a6a6a" stroke-width="1" shape-rendering="crispEdges"/>
<line x1="218.33" y1="4.40" x2="218.33" y2="8.80" stroke="#6a6a6a" stroke-width="1" shape-rendering="crispEdges"/>
<line x1="224.44" y1="429.30" x2="224.44" y2="424.90" stroke="#6a6a6a" stroke-width="1" shape-rendering="crispEdges"/>
<line x1="224.44" y1="4.40" x2="224.44" y2="8.80" stroke="#6a6a6a" stroke-width="1" shape-rendering="crispEdges"/>
<line x1="230.56" y1="429.30" x2="230.56" y2="424.90" stroke="#6a6a6a" stroke-width="1" shape-rendering="crispEdges"/>
<line x1="230.56" y1="4.40" x2="230.56" y2="8.80" stroke="#6a6a6a" stroke-width="1" shape-rendering="crispEdges"/>
<line x1="236.68" y1="429.30" x2="236.68" y2="424.90" stroke="#6a6a6a" stroke-width="1" shape-rendering="crispEdges"/>
<line x1="236.68" y1="4.40" x2="236.68" y2="8.80" stroke="#6a6a6a" stroke-width="1" shape-rendering="crispEdges"/>
<line x1="242.79" y1="429.30" x2="242.79" y2="424.90" stroke="#6a6a6a" stroke-width="1" shape-rendering="crispEdges"/>
<line x1="242.79" y1="4.40" x2="242.79" y2="8.80" stroke="#6a6a6a" stroke-width="1" shape-rendering="crispEdges"/>
<line x1="248.91" y1="429.30" x2="248.91" y2="424.90" stroke="#6a6a6a" stroke-width="1" shape-rendering="crispEdges"/>
<line x1="248.91" y1="4.40" x2="248.91" y2="8.80" stroke="#6a6a6a" stroke-width="1" shape-rendering="crispEdges"/>
<line x1="255.02" y1="429.30" x2="255.02" y2="424.90" stroke="#6a6a6a" stroke-width="1" shape-rendering="crispEdges"/>
<line x1="255.02" y1="4.40" x2="255.02" y2="8.80" stroke="#6a6a6a" stroke-width="1" shape-rendering="crispEdges"/>
<line x1="261.13" y1="429.30" x2="261.13" y2="424.90" stroke="#6a6a6a" stroke-width="1" shape-rendering="crispEdges"/>
<line x1="261.13" y1="4.40" x2="261.13" y2="8.80" stroke="#6a6a6a" stroke-width="1" shape-rendering="crispEdges"/>
<line x1="267.25" y1="429.30" x2="267.25" y2="420.70" stroke="#6a6a6a" stroke-width="1" shape-rendering="crispEdges"/>
<line x1="267.25" y1="4.40" x2="267.25" y2="13.00" stroke="#6a6a6a" stroke-width="1" shape-rendering="crispEdges"/>
<line x1="53.30" y1="429.40" x2="55.70" y2="429.40" stroke="#6a6a6a" stroke-width="1" shape-rendering="crispEdges"/>
<line x1="267.00" y1="429.40" x2="264.60" y2="429.40" stroke="#6a6a6a" stroke-width="1" shape-rendering="crispEdges"/>
<line x1="53.30" y1="420.90" x2="55.70" y2="420.90" stroke="#6a6a6a" stroke-width="1" shape-rendering="crispEdges"/>
<line x1="267.00" y1="420.90" x2="264.60" y2="420.90" stroke="#6a6a6a" stroke-width="1" shape-rendering="crispEdges"/>
<line x1="53.30" y1="412.40" x2="55.70" y2="412.40" stroke="#6a6a6a" stroke-width="1" shape-rendering="crispEdges"/>
<line x1="267.00" y1="412.40" x2="264.60" y2="412.40" stroke="#6a6a6a" stroke-width="1" shape-rendering="crispEdges"/>
<line x1="53.30" y1="403.90" x2="55.70" y2="403.90" stroke="#6a6a6a" stroke-width="1" shape-rendering="crispEdges"/>
<line x1="267.00" y1="403.90" x2="264.60" y2="403.90" stroke="#6a6a6a" stroke-width="1" shape-rendering="crispEdges"/>
<line x1="53.30" y1="395.40" x2="55.70" y2="395.40" stroke="#6a6a6a" stroke-width="1" shape-rendering="crispEdges"/>
<line x1="267.00" y1="395.40" x2="264.60" y2="395.40" stroke="#6a6a6a" stroke-width="1" shape-rendering="crispEdges"/>
<line x1="53.30" y1="386.90" x2="57.70" y2="386.90" stroke="#6a6a6a" stroke-width="1" shape-rendering="crispEdges"/>
<line x1="267.00" y1="386.90" x2="262.60" y2="386.90" stroke="#6a6a6a" stroke-width="1" shape-rendering="crispEdges"/>
<line x1="53.30" y1="378.40" x2="55.70" y2="378.40" stroke="#6a6a6a" stroke-width="1" shape-rendering="crispEdges"/>
<line x1="267.00" y1="378.40" x2="264.60" y2="378.40" stroke="#6a6a6a" stroke-width="1" shape-rendering="crispEdges"/>
<line x1="53.30" y1="369.90" x2="55.70" y2="369.90" stroke="#6a6a6a" stroke-width="1" shape-rendering="crispEdges"/>
<line x1="267.00" y1="369.90" x2="264.60" y2="369.90" stroke="#6a6a6a" stroke-width="1" shape-rendering="crispEdges"/>
<line x1="53.30" y1="361.40" x2="55.70" y2="361.40" stroke="#6a6a6a" stroke-width="1" shape-rendering="crispEdges"/>
<line x1="267.00" y1="361.40" x2="264.60" y2="361.40" stroke="#6a6a6a" stroke-width="1" shape-rendering="crispEdges"/>
<line x1="53.30" y1="352.90" x2="55.70" y2="352.90" stroke="#6a6a6a" stroke-width="1" shape-rendering="crispEdges"/>
<line x1="267.00" y1="352.90" x2="264.60" y2="352.90" stroke="#6a6a6a" stroke-width="1" shape-rendering="crispEdges"/>
<line x1="53.30" y1="344.40" x2="55.70" y2="344.40" stroke="#6a6a6a" stroke-width="1" shape-rendering="crispEdges"/>
<line x1="267.00" y1="344.40" x2="264.60" y2="344.40" stroke="#6a6a6a" stroke-width="1" shape-rendering="crispEdges"/>
<line x1="53.30" y1="335.90" x2="55.70" y2="335.90" stroke="#6a6a6a" stroke-width="1" shape-rendering="crispEdges"/>
<line x1="267.00" y1="335.90" x2="264.60" y2="335.90" stroke="#6a6a6a" stroke-width="1" shape-rendering="crispEdges"/>
<line x1="53.30" y1="327.40" x2="55.70" y2="327.40" stroke="#6a6a6a" stroke-width="1" shape-rendering="crispEdges"/>
<line x1="267.00" y1="327.40" x2="264.60" y2="327.40" stroke="#6a6a6a" stroke-width="1" shape-rendering="crispEdges"/>
<line x1="53.30" y1="318.90" x2="55.70" y2="318.90" stroke="#6a6a6a" stroke-width="1" shape-rendering="crispEdges"/>
<line x1="267.00" y1="318.90" x2="264.60" y2="318.90" stroke="#6a6a6a" stroke-width="1" shape-rendering="crispEdges"/>
<line x1="53.30" y1="310.40" x2="55.70" y2="310.40" stroke="#6a6a6a" stroke-width="1" shape-rendering="crispEdges"/>
<line x1="267.00" y1="310.40" x2="264.60" y2="310.40" stroke="#6a6a6a" stroke-width="1" shape-rendering="crispEdges"/>
<line x1="53.30" y1="301.90" x2="57.70" y2="301.90" stroke="#6a6a6a" stroke-width="1" shape-rendering="crispEdges"/>
<line x1="267.00" y1="301.90" x2="262.60" y2="301.90" stroke="#6a6a6a" stroke-width="1" shape-rendering="crispEdges"/>
<line x1="53.30" y1="293.40" x2="55.70" y2="293.40" stroke="#6a6a6a" stroke-width="1" shape-rendering="crispEdges"/>
<line x1="267.00" y1="293.40" x2="264.60" y2="293.40" stroke="#6a6a6a" stroke-width="1" shape-rendering="crispEdges"/>
<line x1="53.30" y1="284.90" x2="55.70" y2="284.90" stroke="#6a6a6a" stroke-width="1" shape-rendering="crispEdges"/>
<line x1="267.00" y1="284.90" x2="264.60" y2="284.90" stroke="#6a6a6a" stroke-width="1" shape-rendering="crispEdges"/>
<line x1="53.30" y1="276.40" x2="55.70" y2="276.40" stroke="#6a6a6a" stroke-width="1" shape-rendering="crispEdges"/>
<line x1="267.00" y1="276.40" x2="264.60" y2="276.40" stroke="#6a6a6a" stroke-width="1" shape-rendering="crispEdges"/>
<line x1="53.30" y1="267.90" x2="55.70" y2="267.90" stroke="#6a6a6a" stroke-width="1" shape-rendering="crispEdges"/>
<line x1="267.00" y1="267.90" x2="264.60" y2="267.90" stroke="#6a6a6a" stroke-width="1" shape-rendering="crispEdges"/>
<line x1="53.30" y1="259.40" x2="55.70" y2="259.40" stroke="#6a6a6a" stroke-width="1" shape-rendering="crispEdges"/>
<line x1="267.00" y1="259.40" x2="264.60" y2="259.40" stroke="#6a6a6a" stroke-width="1" shape-rendering="crispEdges"/>
<line x1="53.30" y1="250.90" x2="55.70" y2="250.90" stroke="#6a6a6a" stroke-width="1" shape-rendering="crispEdges"/>
<line x1="267.00" y1="250.90" x2="264.60" y2="250.90" stroke="#6a6a6a" stroke-width="1" shape-rendering="crispEdges"/>
<line x1="53.30" y1="242.40" x2="55.70" y2="242.40" stroke="#6a6a6a" stroke-width="1" shape-rendering="crispEdges"/>
<line x1="267.00" y1="242.40" x2="264.60" y2="242.40" stroke="#6a6a6a" stroke-width="1" shape-rendering="crispEdges"/>
<line x1="53.30" y1="233.90" x2="55.70" y2="233.90" stroke="#6a6a6a" stroke-width="1" shape-rendering="crispEdges"/>
<line x1="267.00" y1="233.90" x2="264.60" y2="233.90" stroke="#6a6a6a" stroke-width="1" shape-rendering="crispEdges"/>
<line x1="53.30" y1="225.40" x2="55.70" y2="225.40" stroke="#6a6a6a" stroke-width="1" shape-rendering="crispEdges"/>
<line x1="267.00" y1="225.40" x2="264.60" y2="225.40" stroke="#6a6a6a" stroke-width="1" shape-rendering="crispEdges"/>
<line x1="53.30" y1="216.90" x2="57.70" y2="216.90" stroke="#6a6a6a" stroke-width="1" shape-rendering="crispEdges"/>
<line x1="267.00" y1="216.90" x2="262.60" y2="216.90" stroke="#6a6a6a" stroke-width="1" shape-rendering="crispEdges"/>
<line x1="53.30" y1="208.40" x2="55.70" y2="208.40" stroke="#6a6a6a" stroke-width="1" shape-rendering="crispEdges"/>
<line x1="267.00" y1="208.40" x2="264.60" y2="208.40" stroke="#6a6a6a" stroke-width="1" shape-rendering="crispEdges"/>
<line x1="53.30" y1="199.90" x2="55.70" y2="199.90" stroke="#6a6a6a" stroke-width="1" shape-rendering="crispEdges"/>
<line x1="267.00" y1="199.90" x2="264.60" y2="199.90" stroke="#6a6a6a" stroke-width="1" shape-rendering="crispEdges"/>
<line x1="53.30" y1="191.40" x2="55.70" y2="191.40" stroke="#6a6a6a" stroke-width="1" shape-rendering="crispEdges"/>
<line x1="267.00" y1="191.40" x2="264.60" y2="191.40" stroke="#6a6a6a" stroke-width="1" shape-rendering="crispEdges"/>
<line x1="53.30" y1="182.90" x2="55.70" y2="182.90" stroke="#6a6a6a" stroke-width="1" shape-rendering="crispEdges"/>
<line x1="267.00" y1="182.90" x2="264.60" y2="182.90" stroke="#6a6a6a" stroke-width="1" shape-rendering="crispEdges"/>
<line x1="53.30" y1="174.40" x2="55.70" y2="174.40" stroke="#6a6a6a" stroke-width="1" shape-rendering="crispEdges"/>
<line x1="267.00" y1="174.40" x2="264.60" y2="174.40" stroke="#6a6a6a" stroke-width="1" shape-rendering="crispEdges"/>
<line x1="53.30" y1="165.90" x2="55.70" y2="165.90" stroke="#6a6a6a" stroke-width="1" shape-rendering="crispEdges"/>
<line x1="267.00" y1="165.90" x2="264.60" y2="165.90" stroke="#6a6a6a" stroke-width="1" shape-rendering="crispEdges"/>
<line x1="53.30" y1="157.40" x2="55.70" y2="157.40" stroke="#6a6a6a" stroke-width="1" shape-rendering="crispEdges"/>
<line x1="267.00" y1="157.40" x2="264.60" y2="157.40" stroke="#6a6a6a" stroke-width="1" shape-rendering="crispEdges"/>
<line x1="53.30" y1="148.90" x2="55.70" y2="148.90" stroke="#6a6a6a" stroke-width="1" shape-rendering="crispEdges"/>
<line x1="267.00" y1="148.90" x2="264.60" y2="148.90" stroke="#6a6a6a" stroke-width="1" shape-rendering="crispEdges"/>
<line x1="53.30" y1="140.40" x2="55.70" y2="140.40" stroke="#6a6a6a" stroke-width="1" shape-rendering="crispEdges"/>
<line x1="267.00" y1="140.40" x2="264.60" y2="140.40" stroke="#6a6a6a" stroke-width="1" shape-rendering="crispEdges"/>
<line x1="53.30" y1="131.90" x2="57.70" y2="131.90" stroke="#6a6a6a" stroke-width="1" shape-rendering="crispEdges"/>
<line x1="267.00" y1="131.90" x2="262.60" y2="131.90" stroke="#6a6a6a" stroke-width="1" shape-rendering="crispEdges"/>
<line x1="53.30" y1="123.40" x2="55.70" y2="123.40" stroke="#6a6a6a" stroke-width="1" shape-rendering="crispEdges"/>
<line x1="267.00" y1="123.40" x2="264.60" y2="123.40" stroke="#6a6a6a" stroke-width="1" shape-rendering="crispEdges"/>
<line x1="53.30" y1="114.90" x2="55.70" y2="114.90" stroke="#6a6a6a" stroke-width="1" shape-rendering="crispEdges"/>
<line x1="267.00" y1="114.90" x2="264.60" y2="114.90" stroke="#6a6a6a" stroke-width="1" shape-rendering="crispEdges"/>
<line x1="53.30" y1="106.40" x2="55.70" y2="106.40" stroke="#6a6a6a" stroke-width="1" shape-rendering="crispEdges"/>
<line x1="267.00" y1="106.40" x2="264.60" y2="106.40" stroke="#6a6a6a" stroke-width="1" shape-rendering="crispEdges"/>
<line x1="53.30" y1="97.90" x2="55.70" y2="97.90" stroke="#6a6a6a" stroke-width="1" shape-rendering="crispEdges"/>
<line x1="267.00" y1="97.90" x2="264.60" y2="97.90" stroke="#6a6a6a" stroke-width="1" shape-rendering="crispEdges"/>
<line x1="53.30" y1="89.40" x2="55.70" y2="89.40" stroke="#6a6a6a" stroke-width="1" shape-rendering="crispEdges"/>
<line x1="267.00" y1="89.40" x2="264.60" y2="89.40" stroke="#6a6a6a" stroke-width="1" shape-rendering="crispEdges"/>
<line x1="53.30" y1="80.90" x2="55.70" y2="80.90" stroke="#6a6a6a" stroke-width="1" shape-rendering="crispEdges"/>
<line x1="267.00" y1="80.90" x2="264.60" y2="80.90" stroke="#6a6a6a" stroke-width="1" shape-rendering="crispEdges"/>
<line x1="53.30" y1="72.40" x2="55.70" y2="72.40" stroke="#6a6a6a" stroke-width="1" shape-rendering="crispEdges"/>
<line x1="267.00" y1="72.40" x2="264.60" y2="72.40" stroke="#6a6a6a" stroke-width="1" shape-rendering="crispEdges"/>
<line x1="53.30" y1="63.90" x2="55.70" y2="63.90" stroke="#6a6a6a" stroke-width="1" shape-rendering="crispEdges"/>
<line x1="267.00" y1="63.90" x2="264.60" y2="63.90" stroke="#6a6a6a" stroke-width="1" shape-rendering="crispEdges"/>
<line x1="53.30" y1="55.40" x2="55.70" y2="55.40" stroke="#6a6a6a" stroke-width="1" shape-rendering="crispEdges"/>
<line x1="267.00" y1="55.40" x2="264.60" y2="55.40" stroke="#6a6a6a" stroke-width="1" shape-rendering="crispEdges"/>
<line x1="53.30" y1="46.90" x2="57.70" y2="46.90" stroke="#6a6a6a" stroke-width="1" shape-rendering="crispEdges"/>
<line x1="267.00" y1="46.90" x2="262.60" y2="46.90" stroke="#6a6a6a" stroke-width="1" shape-rendering="crispEdges"/>
<line x1="53.30" y1="38.40" x2="55.70" y2="38.40" stroke="#6a6a6a" stroke-width="1" shape-rendering="crispEdges"/>
<line x1="267.00" y1="38.40" x2="264.60" y2="38.40" stroke="#6a6a6a" stroke-width="1" shape-rendering="crispEdges"/>
<line x1="53.30" y1="29.90" x2="55.70" y2="29.90" stroke="#6a6a6a" stroke-width="1" shape-rendering="crispEdges"/>
<line x1="267.00" y1="29.90" x2="264.60" y2="29.90" stroke="#6a6a6a" stroke-width="1" shape-rendering="crispEdges"/>
<line x1="53.30" y1="21.40" x2="55.70" y2="21.40" stroke="#6a6a6a" stroke-width="1" shape-rendering="crispEdges"/>
<line x1="267.00" y1="21.40" x2="264.60" y2="21.40" stroke="#6a6a6a" stroke-width="1" shape-rendering="crispEdges"/>
<line x1="53.30" y1="12.90" x2="55.70" y2="12.90" stroke="#6a6a6a" stroke-width="1" shape-rendering="crispEdges"/>
<line x1="267.00" y1="12.90" x2="264.60" y2="12.90" stroke="#6a6a6a" stroke-width="1" shape-rendering="crispEdges"/>
<line x1="53.30" y1="4.40" x2="55.70" y2="4.40" stroke="#6a6a6a" stroke-width="1" shape-rendering="crispEdges"/>
<line x1="267.00" y1="4.40" x2="264.60" y2="4.40" stroke="#6a6a6a" stroke-width="1" shape-rendering="crispEdges"/>
<path d="M83.08 440.48 L81.82 440.90 L80.98 442.16 L80.56 444.26 L80.56 445.52 L80.98 447.62 L81.82 448.88 L83.08 449.30 L83.92 449.30 L85.18 448.88 L86.02 447.62 L86.44 445.52 L86.44 444.26 L86.02 442.16 L85.18 440.90 L83.92 440.48 L83.08 440.48" fill="none" stroke="#666" stroke-width="1.1" stroke-linecap="round" stroke-linejoin="round" />
<path d="M142.97 442.16 L143.81 441.74 L145.07 440.48 L145.07 449.30" fill="none" stroke="#666" stroke-width="1.1" stroke-linecap="round" stroke-linejoin="round" />
<path d="M203.28 442.58 L203.28 442.16 L203.70 441.32 L204.12 440.90 L204.96 440.48 L206.64 440.48 L207.48 440.90 L207.90 441.32 L208.32 442.16 L208.32 443.00 L207.90 443.84 L207.06 445.10 L202.86 449.30 L208.74 449.30" fill="none" stroke="#666" stroke-width="1.1" stroke-linecap="round" stroke-linejoin="round" />
<path d="M264.85 440.48 L269.47 440.48 L266.95 443.84 L268.21 443.84 L269.05 444.26 L269.47 444.68 L269.89 445.94 L269.89 446.78 L269.47 448.04 L268.63 448.88 L267.37 449.30 L266.11 449.30 L264.85 448.88 L264.43 448.46 L264.01 447.62" fill="none" stroke="#666" stroke-width="1.1" stroke-linecap="round" stroke-linejoin="round" />
<path d="M43.88 383.48 L42.62 383.90 L41.78 385.16 L41.36 387.26 L41.36 388.52 L41.78 390.62 L42.62 391.88 L43.88 392.30 L44.72 392.30 L45.98 391.88 L46.82 390.62 L47.24 388.52 L47.24 387.26 L46.82 385.16 L45.98 383.90 L44.72 383.48 L43.88 383.48" fill="none" stroke="#666" stroke-width="1.1" stroke-linecap="round" stroke-linejoin="round" />
<path d="M42.62 300.16 L43.46 299.74 L44.72 298.48 L44.72 307.30" fill="none" stroke="#666" stroke-width="1.1" stroke-linecap="round" stroke-linejoin="round" />
<path d="M41.78 215.58 L41.78 215.16 L42.20 214.32 L42.62 213.90 L43.46 213.48 L45.14 213.48 L45.98 213.90 L46.40 214.32 L46.82 215.16 L46.82 216.00 L46.40 216.84 L45.56 218.10 L41.36 222.30 L47.24 222.30" fill="none" stroke="#666" stroke-width="1.1" stroke-linecap="round" stroke-linejoin="round" />
<path d="M42.20 128.48 L46.82 128.48 L44.30 131.84 L45.56 131.84 L46.40 132.26 L46.82 132.68 L47.24 133.94 L47.24 134.78 L46.82 136.04 L45.98 136.88 L44.72 137.30 L43.46 137.30 L42.20 136.88 L41.78 136.46 L41.36 135.62" fill="none" stroke="#666" stroke-width="1.1" stroke-linecap="round" stroke-linejoin="round" />
<path d="M45.56 43.48 L41.36 49.36 L47.66 49.36 M45.56 43.48 L45.56 52.30" fill="none" stroke="#666" stroke-width="1.1" stroke-linecap="round" stroke-linejoin="round" />
<path d="M133.94 455.00 L133.06 455.88 L132.18 457.20 L131.30 458.96 L130.86 461.16 L130.86 462.92 L131.30 465.12 L132.18 466.88 L133.06 468.20 L133.94 469.08 M137.02 456.76 L137.02 466.00 M143.18 456.76 L143.18 466.00 M137.02 461.16 L143.18 461.16 M153.74 462.04 L161.66 462.04 M172.22 456.76 L172.22 466.00 M178.38 456.76 L172.22 462.92 M174.42 460.72 L178.38 466.00 M183.52 466.52 L183.25 465.97 L182.43 465.70 L181.61 465.70 L180.79 465.97 L180.52 466.52 L180.79 467.06 L181.34 467.34 L182.70 467.61 L183.25 467.88 L183.52 468.43 L183.52 468.70 L183.25 469.25 L182.43 469.52 L181.61 469.52 L180.79 469.25 L180.52 468.70 M185.66 455.00 L186.54 455.88 L187.42 457.20 L188.30 458.96 L188.74 461.16 L188.74 462.92 L188.30 465.12 L187.42 466.88 L186.54 468.20 L185.66 469.08" fill="none" stroke="#666" stroke-width="1.1" stroke-linecap="round" stroke-linejoin="round" />
<path d="M-22.44 -11.00 L-23.32 -10.12 L-24.20 -8.80 L-25.08 -7.04 L-25.52 -4.84 L-25.52 -3.08 L-25.08 -0.88 L-24.20 0.88 L-23.32 2.20 L-22.44 3.08 M-15.84 -9.24 L-15.84 -2.20 L-16.28 -0.88 L-16.72 -0.44 L-17.60 0.00 L-18.48 0.00 L-19.36 -0.44 L-19.80 -0.88 L-20.24 -2.20 L-20.24 -3.08 M-5.28 -3.96 L2.64 -3.96 M13.20 -9.24 L13.20 0.00 M19.36 -9.24 L19.36 0.00 M13.20 -4.84 L19.36 -4.84 M22.44 -11.00 L23.32 -10.12 L24.20 -8.80 L25.08 -7.04 L25.52 -4.84 L25.52 -3.08 L25.08 -0.88 L24.20 0.88 L23.32 2.20 L22.44 3.08" fill="none" stroke="#666" stroke-width="1.1" stroke-linecap="round" stroke-linejoin="round" transform="translate(27.6,217) rotate(-90)"/>
<line x1="323.26" y1="429.30" x2="323.26" y2="424.90" stroke="#6a6a6a" stroke-width="1" shape-rendering="crispEdges"/>
<line x1="323.26" y1="4.40" x2="323.26" y2="8.80" stroke="#6a6a6a" stroke-width="1" shape-rendering="crispEdges"/>
<line x1="326.94" y1="429.30" x2="326.94" y2="424.90" stroke="#6a6a6a" stroke-width="1" shape-rendering="crispEdges"/>
<line x1="326.94" y1="4.40" x2="326.94" y2="8.80" stroke="#6a6a6a" stroke-width="1" shape-rendering="crispEdges"/>
<line x1="330.63" y1="429.30" x2="330.63" y2="424.90" stroke="#6a6a6a" stroke-width="1" shape-rendering="crispEdges"/>
<line x1="330.63" y1="4.40" x2="330.63" y2="8.80" stroke="#6a6a6a" stroke-width="1" shape-rendering="crispEdges"/>
<line x1="334.31" y1="429.30" x2="334.31" y2="424.90" stroke="#6a6a6a" stroke-width="1" shape-rendering="crispEdges"/>
<line x1="334.31" y1="4.40" x2="334.31" y2="8.80" stroke="#6a6a6a" stroke-width="1" shape-rendering="crispEdges"/>
<line x1="338.00" y1="429.30" x2="338.00" y2="420.70" stroke="#6a6a6a" stroke-width="1" shape-rendering="crispEdges"/>
<line x1="338.00" y1="4.40" x2="338.00" y2="13.00" stroke="#6a6a6a" stroke-width="1" shape-rendering="crispEdges"/>
<line x1="341.69" y1="429.30" x2="341.69" y2="424.90" stroke="#6a6a6a" stroke-width="1" shape-rendering="crispEdges"/>
<line x1="341.69" y1="4.40" x2="341.69" y2="8.80" stroke="#6a6a6a" stroke-width="1" shape-rendering="crispEdges"/>
<line x1="345.37" y1="429.30" x2="345.37" y2="424.90" stroke="#6a6a6a" stroke-width="1" shape-rendering="crispEdges"/>
<line x1="345.37" y1="4.40" x2="345.37" y2="8.80" stroke="#6a6a6a" stroke-width="1" shape-rendering="crispEdges"/>
<line x1="349.06" y1="429.30" x2="349.06" y2="424.90" stroke="#6a6a6a" stroke-width="1" shape-rendering="crispEdges"/>
<line x1="349.06" y1="4.40" x2="349.06" y2="8.80" stroke="#6a6a6a" stroke-width="1" shape-rendering="crispEdges"/>
<line x1="352.74" y1="429.30" x2="352.74" y2="424.90" stroke="#6a6a6a" stroke-width="1" shape-rendering="crispEdges"/>
<line x1="352.74" y1="4.40" x2="352.74" y2="8.80" stroke="#6a6a6a" stroke-width="1" shape-rendering="crispEdges"/>
<line x1="356.43" y1="429.30" x2="356.43" y2="424.90" stroke="#6a6a6a" stroke-width="1" shape-rendering="crispEdges"/>
<line x1="356.43" y1="4.40" x2="356.43" y2="8.80" stroke="#6a6a6a" stroke-width="1" shape-rendering="crispEdges"/>
<line x1="360.11" y1="429.30" x2="360.11" y2="424.90" stroke="#6a6a6a" stroke-width="1" shape-rendering="crispEdges"/>
<line x1="360.11" y1="4.40" x2="360.11" y2="8.80" stroke="#6a6a6a" stroke-width="1" shape-rendering="crispEdges"/>
<line x1="363.80" y1="429.30" x2="363.80" y2="424.90" stroke="#6a6a6a" stroke-width="1" shape-rendering="crispEdges"/>
<line x1="363.80" y1="4.40" x2="363.80" y2="8.80" stroke="#6a6a6a" stroke-width="1" shape-rendering="crispEdges"/>
<line x1="367.48" y1="429.30" x2="367.48" y2="424.90" stroke="#6a6a6a" stroke-width="1" shape-rendering="crispEdges"/>
<line x1="367.48" y1="4.40" x2="367.48" y2="8.80" stroke="#6a6a6a" stroke-width="1" shape-rendering="crispEdges"/>
<line x1="371.17" y1="429.30" x2="371.17" y2="424.90" stroke="#6a6a6a" stroke-width="1" shape-rendering="crispEdges"/>
<line x1="371.17" y1="4.40" x2="371.17" y2="8.80" stroke="#6a6a6a" stroke-width="1" shape-rendering="crispEdges"/>
<line x1="374.85" y1="429.30" x2="374.85" y2="420.70" stroke="#6a6a6a" stroke-width="1" shape-rendering="crispEdges"/>
<line x1="374.85" y1="4.40" x2="374.85" y2="13.00" stroke="#6a6a6a" stroke-width="1" shape-rendering="crispEdges"/>
<line x1="378.54" y1="429.30" x2="378.54" y2="424.90" stroke="#6a6a6a" stroke-width="1" shape-rendering="crispEdges"/>
<line x1="378.54" y1="4.40" x2="378.54" y2="8.80" stroke="#6a6a6a" stroke-width="1" shape-rendering="crispEdges"/>
<line x1="382.22" y1="429.30" x2="382.22" y2="424.90" stroke="#6a6a6a" stroke-width="1" shape-rendering="crispEdges"/>
<line x1="382.22" y1="4.40" x2="382.22" y2="8.80" stroke="#6a6a6a" stroke-width="1" shape-rendering="crispEdges"/>
<line x1="385.90" y1="429.30" x2="385.90" y2="424.90" stroke="#6a6a6a" stroke-width="1" shape-rendering="crispEdges"/>
<line x1="385.90" y1="4.40" x2="385.90" y2="8.80" stroke="#6a6a6a" stroke-width="1" shape-rendering="crispEdges"/>
<line x1="389.59" y1="429.30" x2="389.59" y2="424.90" stroke="#6a6a6a" stroke-width="1" shape-rendering="crispEdges"/>
<line x1="389.59" y1="4.40" x2="389.59" y2="8.80" stroke="#6a6a6a" stroke-width="1" shape-rendering="crispEdges"/>
<line x1="393.27" y1="429.30" x2="393.27" y2="424.90" stroke="#6a6a6a" stroke-width="1" shape-rendering="crispEdges"/>
<line x1="393.27" y1="4.40" x2="393.27" y2="8.80" stroke="#6a6a6a" stroke-width="1" shape-rendering="crispEdges"/>
<line x1="396.96" y1="429.30" x2="396.96" y2="424.90" stroke="#6a6a6a" stroke-width="1" shape-rendering="crispEdges"/>
<line x1="396.96" y1="4.40" x2="396.96" y2="8.80" stroke="#6a6a6a" stroke-width="1" shape-rendering="crispEdges"/>
<line x1="400.64" y1="429.30" x2="400.64" y2="424.90" stroke="#6a6a6a" stroke-width="1" shape-rendering="crispEdges"/>
<line x1="400.64" y1="4.40" x2="400.64" y2="8.80" stroke="#6a6a6a" stroke-width="1" shape-rendering="crispEdges"/>
<line x1="404.33" y1="429.30" x2="404.33" y2="424.90" stroke="#6a6a6a" stroke-width="1" shape-rendering="crispEdges"/>
<line x1="404.33" y1="4.40" x2="404.33" y2="8.80" stroke="#6a6a6a" stroke-width="1" shape-rendering="crispEdges"/>
<line x1="408.01" y1="429.30" x2="408.01" y2="424.90" stroke="#6a6a6a" stroke-width="1" shape-rendering="crispEdges"/>
<line x1="408.01" y1="4.40" x2="408.01" y2="8.80" stroke="#6a6a6a" stroke-width="1" shape-rendering="crispEdges"/>
<line x1="411.70" y1="429.30" x2="411.70" y2="420.70" stroke="#6a6a6a" stroke-width="1" shape-rendering="crispEdges"/>
<line x1="411.70" y1="4.40" x2="411.70" y2="13.00" stroke="#6a6a6a" stroke-width="1" shape-rendering="crispEdges"/>
<line x1="415.38" y1="429.30" x2="415.38" y2="424.90" stroke="#6a6a6a" stroke-width="1" shape-rendering="crispEdges"/>
<line x1="415.38" y1="4.40" x2="415.38" y2="8.80" stroke="#6a6a6a" stroke-width="1" shape-rendering="crispEdges"/>
<line x1="419.07" y1="429.30" x2="419.07" y2="424.90" stroke="#6a6a6a" stroke-width="1" shape-rendering="crispEdges"/>
<line x1="419.07" y1="4.40" x2="419.07" y2="8.80" stroke="#6a6a6a" stroke-width="1" shape-rendering="crispEdges"/>
<line x1="422.75" y1="429.30" x2="422.75" y2="424.90" stroke="#6a6a6a" stroke-width="1" shape-rendering="crispEdges"/>
<line x1="422.75" y1="4.40" x2="422.75" y2="8.80" stroke="#6a6a6a" stroke-width="1" shape-rendering="crispEdges"/>
<line x1="426.44" y1="429.30" x2="426.44" y2="424.90" stroke="#6a6a6a" stroke-width="1" shape-rendering="crispEdges"/>
<line x1="426.44" y1="4.40" x2="426.44" y2="8.80" stroke="#6a6a6a" stroke-width="1" shape-rendering="crispEdges"/>
<line x1="430.12" y1="429.30" x2="430.12" y2="424.90" stroke="#6a6a6a" stroke-width="1" shape-rendering="crispEdges"/>
<line x1="430.12" y1="4.40" x2="430.12" y2="8.80" stroke="#6a6a6a" stroke-width="1" shape-rendering="crispEdges"/>
<line x1="433.81" y1="429.30" x2="433.81" y2="424.90" stroke="#6a6a6a" stroke-width="1" shape-rendering="crispEdges"/>
<line x1="433.81" y1="4.40" x2="433.81" y2="8.80" stroke="#6a6a6a" stroke-width="1" shape-rendering="crispEdges"/>
<line x1="437.50" y1="429.30" x2="437.50" y2="424.90" stroke="#6a6a6a" stroke-width="1" shape-rendering="crispEdges"/>
<line x1="437.50" y1="4.40" x2="437.50" y2="8.80" stroke="#6a6a6a" stroke-width="1" shape-rendering="crispEdges"/>
<line x1="441.18" y1="429.30" x2="441.18" y2="424.90" stroke="#6a6a6a" stroke-width="1" shape-rendering="crispEdges"/>
<line x1="441.18" y1="4.40" x2="441.18" y2="8.80" stroke="#6a6a6a" stroke-width="1" shape-rendering="crispEdges"/>
<line x1="444.87" y1="429.30" x2="444.87" y2="424.90" stroke="#6a6a6a" stroke-width="1" shape-rendering="crispEdges"/>
<line x1="444.87" y1="4.40" x2="444.87" y2="8.80" stroke="#6a6a6a" stroke-width="1" shape-rendering="crispEdges"/>
<line x1="448.55" y1="429.30" x2="448.55" y2="420.70" stroke="#6a6a6a" stroke-width="1" shape-rendering="crispEdges"/>
<line x1="448.55" y1="4.40" x2="448.55" y2="13.00" stroke="#6a6a6a" stroke-width="1" shape-rendering="crispEdges"/>
<line x1="452.24" y1="429.30" x2="452.24" y2="424.90" stroke="#6a6a6a" stroke-width="1" shape-rendering="crispEdges"/>
<line x1="452.24" y1="4.40" x2="452.24" y2="8.80" stroke="#6a6a6a" stroke-width="1" shape-rendering="crispEdges"/>
<line x1="455.92" y1="429.30" x2="455.92" y2="424.90" stroke="#6a6a6a" stroke-width="1" shape-rendering="crispEdges"/>
<line x1="455.92" y1="4.40" x2="455.92" y2="8.80" stroke="#6a6a6a" stroke-width="1" shape-rendering="crispEdges"/>
<line x1="459.61" y1="429.30" x2="459.61" y2="424.90" stroke="#6a6a6a" stroke-width="1" shape-rendering="crispEdges"/>
<line x1="459.61" y1="4.40" x2="459.61" y2="8.80" stroke="#6a6a6a" stroke-width="1" shape-rendering="crispEdges"/>
<line x1="463.29" y1="429.30" x2="463.29" y2="424.90" stroke="#6a6a6a" stroke-width="1" shape-rendering="crispEdges"/>
<line x1="463.29" y1="4.40" x2="463.29" y2="8.80" stroke="#6a6a6a" stroke-width="1" shape-rendering="crispEdges"/>
<line x1="466.98" y1="429.30" x2="466.98" y2="424.90" stroke="#6a6a6a" stroke-width="1" shape-rendering="crispEdges"/>
<line x1="466.98" y1="4.40" x2="466.98" y2="8.80" stroke="#6a6a6a" stroke-width="1" shape-rendering="crispEdges"/>
<line x1="470.66" y1="429.30" x2="470.66" y2="424.90" stroke="#6a6a6a" stroke-width="1" shape-rendering="crispEdges"/>
<line x1="470.66" y1="4.40" x2="470.66" y2="8.80" stroke="#6a6a6a" stroke-width="1" shape-rendering="crispEdges"/>
<line x1="474.35" y1="429.30" x2="474.35" y2="424.90" stroke="#6a6a6a" stroke-width="1" shape-rendering="crispEdges"/>
<line x1="474.35" y1="4.40" x2="474.35" y2="8.80" stroke="#6a6a6a" stroke-width="1" shape-rendering="crispEdges"/>
<line x1="478.03" y1="429.30" x2="478.03" y2="424.90" stroke="#6a6a6a" stroke-width="1" shape-rendering="crispEdges"/>
<line x1="478.03" y1="4.40" x2="478.03" y2="8.80" stroke="#6a6a6a" stroke-width="1" shape-rendering="crispEdges"/>
<line x1="481.72" y1="429.30" x2="481.72" y2="424.90" stroke="#6a6a6a" stroke-width="1" shape-rendering="crispEdges"/>
<line x1="481.72" y1="4.40" x2="481.72" y2="8.80" stroke="#6a6a6a" stroke-width="1" shape-rendering="crispEdges"/>
<line x1="485.40" y1="429.30" x2="485.40" y2="420.70" stroke="#6a6a6a" stroke-width="1" shape-rendering="crispEdges"/>
<line x1="485.40" y1="4.40" x2="485.40" y2="13.00" stroke="#6a6a6a" stroke-width="1" shape-rendering="crispEdges"/>
<line x1="489.09" y1="429.30" x2="489.09" y2="424.90" stroke="#6a6a6a" stroke-width="1" shape-rendering="crispEdges"/>
<line x1="489.09" y1="4.40" x2="489.09" y2="8.80" stroke="#6a6a6a" stroke-width="1" shape-rendering="crispEdges"/>
<line x1="492.77" y1="429.30" x2="492.77" y2="424.90" stroke="#6a6a6a" stroke-width="1" shape-rendering="crispEdges"/>
<line x1="492.77" y1="4.40" x2="492.77" y2="8.80" stroke="#6a6a6a" stroke-width="1" shape-rendering="crispEdges"/>
<line x1="496.46" y1="429.30" x2="496.46" y2="424.90" stroke="#6a6a6a" stroke-width="1" shape-rendering="crispEdges"/>
<line x1="496.46" y1="4.40" x2="496.46" y2="8.80" stroke="#6a6a6a" stroke-width="1" shape-rendering="crispEdges"/>
<line x1="500.14" y1="429.30" x2="500.14" y2="424.90" stroke="#6a6a6a" stroke-width="1" shape-rendering="crispEdges"/>
<line x1="500.14" y1="4.40" x2="500.14" y2="8.80" stroke="#6a6a6a" stroke-width="1" shape-rendering="crispEdges"/>
<line x1="503.82" y1="429.30" x2="503.82" y2="424.90" stroke="#6a6a6a" stroke-width="1" shape-rendering="crispEdges"/>
<line x1="503.82" y1="4.40" x2="503.82" y2="8.80" stroke="#6a6a6a" stroke-width="1" shape-rendering="crispEdges"/>
<line x1="507.51" y1="429.30" x2="507.51" y2="424.90" stroke="#6a6a6a" stroke-width="1" shape-rendering="crispEdges"/>
<line x1="507.51" y1="4.40" x2="507.51" y2="8.80" stroke="#6a6a6a" stroke-width="1" shape-rendering="crispEdges"/>
<line x1="511.19" y1="429.30" x2="511.19" y2="424.90" stroke="#6a6a6a" stroke-width="1" shape-rendering="crispEdges"/>
<line x1="511.19" y1="4.40" x2="511.19" y2="8.80" stroke="#6a6a6a" stroke-width="1" shape-rendering="crispEdges"/>
<line x1="514.88" y1="429.30" x2="514.88" y2="424.90" stroke="#6a6a6a" stroke-width="1" shape-rendering="crispEdges"/>
<line x1="514.88" y1="4.40" x2="514.88" y2="8.80" stroke="#6a6a6a" stroke-width="1" shape-rendering="crispEdges"/>
<line x1="518.57" y1="429.30" x2="518.57" y2="424.90" stroke="#6a6a6a" stroke-width="1" shape-rendering="crispEdges"/>
<line x1="518.57" y1="4.40" x2="518.57" y2="8.80" stroke="#6a6a6a" stroke-width="1" shape-rendering="crispEdges"/>
<line x1="522.25" y1="429.30" x2="522.25" y2="420.70" stroke="#6a6a6a" stroke-width="1" shape-rendering="crispEdges"/>
<line x1="522.25" y1="4.40" x2="522.25" y2="13.00" stroke="#6a6a6a" stroke-width="1" shape-rendering="crispEdges"/>
<line x1="525.93" y1="429.30" x2="525.93" y2="424.90" stroke="#6a6a6a" stroke-width="1" shape-rendering="crispEdges"/>
<line x1="525.93" y1="4.40" x2="525.93" y2="8.80" stroke="#6a6a6a" stroke-width="1" shape-rendering="crispEdges"/>
<line x1="529.62" y1="429.30" x2="529.62" y2="424.90" stroke="#6a6a6a" stroke-width="1" shape-rendering="crispEdges"/>
<line x1="529.62" y1="4.40" x2="529.62" y2="8.80" stroke="#6a6a6a" stroke-width="1" shape-rendering="crispEdges"/>
<line x1="533.31" y1="429.30" x2="533.31" y2="424.90" stroke="#6a6a6a" stroke-width="1" shape-rendering="crispEdges"/>
<line x1="533.31" y1="4.40" x2="533.31" y2="8.80" stroke="#6a6a6a" stroke-width="1" shape-rendering="crispEdges"/>
<line x1="536.99" y1="429.30" x2="536.99" y2="424.90" stroke="#6a6a6a" stroke-width="1" shape-rendering="crispEdges"/>
<line x1="536.99" y1="4.40" x2="536.99" y2="8.80" stroke="#6a6a6a" stroke-width="1" shape-rendering="crispEdges"/>
<line x1="540.67" y1="429.30" x2="540.67" y2="424.90" stroke="#6a6a6a" stroke-width="1" shape-rendering="crispEdges"/>
<line x1="540.67" y1="4.40" x2="540.67" y2="8.80" stroke="#6a6a6a" stroke-width="1" shape-rendering="crispEdges"/>
<path d="M337.58 440.48 L336.32 440.90 L335.48 442.16 L335.06 444.26 L335.06 445.52 L335.48 447.62 L336.32 448.88 L337.58 449.30 L338.42 449.30 L339.68 448.88 L340.52 447.62 L340.94 445.52 L340.94 444.26 L340.52 442.16 L339.68 440.90 L338.42 440.48 L337.58 440.48" fill="none" stroke="#666" stroke-width="1.1" stroke-linecap="round" stroke-linejoin="round" />
<path d="M373.17 442.16 L374.01 441.74 L375.27 440.48 L375.27 449.30" fill="none" stroke="#666" stroke-width="1.1" stroke-linecap="round" stroke-linejoin="round" />
<path d="M409.18 442.58 L409.18 442.16 L409.60 441.32 L410.02 440.90 L410.86 440.48 L412.54 440.48 L413.38 440.90 L413.80 441.32 L414.22 442.16 L414.22 443.00 L413.80 443.84 L412.96 445.10 L408.76 449.30 L414.64 449.30" fill="none" stroke="#666" stroke-width="1.1" stroke-linecap="round" stroke-linejoin="round" />
<path d="M446.45 440.48 L451.07 440.48 L448.55 443.84 L449.81 443.84 L450.65 444.26 L451.07 444.68 L451.49 445.94 L451.49 446.78 L451.07 448.04 L450.23 448.88 L448.97 449.30 L447.71 449.30 L446.45 448.88 L446.03 448.46 L445.61 447.62" fill="none" stroke="#666" stroke-width="1.1" stroke-linecap="round" stroke-linejoin="round" />
<path d="M486.66 440.48 L482.46 446.36 L488.76 446.36 M486.66 440.48 L486.66 449.30" fill="none" stroke="#666" stroke-width="1.1" stroke-linecap="round" stroke-linejoin="round" />
<path d="M524.35 440.48 L520.15 440.48 L519.73 444.26 L520.15 443.84 L521.41 443.42 L522.67 443.42 L523.93 443.84 L524.77 444.68 L525.19 445.94 L525.19 446.78 L524.77 448.04 L523.93 448.88 L522.67 449.30 L521.41 449.30 L520.15 448.88 L519.73 448.46 L519.31 447.62" fill="none" stroke="#666" stroke-width="1.1" stroke-linecap="round" stroke-linejoin="round" />
<line x1="320.50" y1="4.28" x2="322.80" y2="4.28" stroke="#6a6a6a" stroke-width="1" shape-rendering="crispEdges"/>
<line x1="539.70" y1="4.28" x2="544.30" y2="4.28" stroke="#6a6a6a" stroke-width="1" shape-rendering="crispEdges"/>
<line x1="755.80" y1="4.28" x2="753.50" y2="4.28" stroke="#6a6a6a" stroke-width="1" shape-rendering="crispEdges"/>
<line x1="320.50" y1="24.52" x2="322.80" y2="24.52" stroke="#6a6a6a" stroke-width="1" shape-rendering="crispEdges"/>
<line x1="539.70" y1="24.52" x2="544.30" y2="24.52" stroke="#6a6a6a" stroke-width="1" shape-rendering="crispEdges"/>
<line x1="755.80" y1="24.52" x2="753.50" y2="24.52" stroke="#6a6a6a" stroke-width="1" shape-rendering="crispEdges"/>
<line x1="320.50" y1="44.76" x2="322.80" y2="44.76" stroke="#6a6a6a" stroke-width="1" shape-rendering="crispEdges"/>
<line x1="539.70" y1="44.76" x2="544.30" y2="44.76" stroke="#6a6a6a" stroke-width="1" shape-rendering="crispEdges"/>
<line x1="755.80" y1="44.76" x2="753.50" y2="44.76" stroke="#6a6a6a" stroke-width="1" shape-rendering="crispEdges"/>
<line x1="320.50" y1="65.00" x2="325.00" y2="65.00" stroke="#6a6a6a" stroke-width="1" shape-rendering="crispEdges"/>
<line x1="537.50" y1="65.00" x2="546.50" y2="65.00" stroke="#6a6a6a" stroke-width="1" shape-rendering="crispEdges"/>
<line x1="755.80" y1="65.00" x2="751.30" y2="65.00" stroke="#6a6a6a" stroke-width="1" shape-rendering="crispEdges"/>
<line x1="320.50" y1="85.24" x2="322.80" y2="85.24" stroke="#6a6a6a" stroke-width="1" shape-rendering="crispEdges"/>
<line x1="539.70" y1="85.24" x2="544.30" y2="85.24" stroke="#6a6a6a" stroke-width="1" shape-rendering="crispEdges"/>
<line x1="755.80" y1="85.24" x2="753.50" y2="85.24" stroke="#6a6a6a" stroke-width="1" shape-rendering="crispEdges"/>
<line x1="320.50" y1="105.48" x2="322.80" y2="105.48" stroke="#6a6a6a" stroke-width="1" shape-rendering="crispEdges"/>
<line x1="539.70" y1="105.48" x2="544.30" y2="105.48" stroke="#6a6a6a" stroke-width="1" shape-rendering="crispEdges"/>
<line x1="755.80" y1="105.48" x2="753.50" y2="105.48" stroke="#6a6a6a" stroke-width="1" shape-rendering="crispEdges"/>
<line x1="320.50" y1="125.72" x2="322.80" y2="125.72" stroke="#6a6a6a" stroke-width="1" shape-rendering="crispEdges"/>
<line x1="539.70" y1="125.72" x2="544.30" y2="125.72" stroke="#6a6a6a" stroke-width="1" shape-rendering="crispEdges"/>
<line x1="755.80" y1="125.72" x2="753.50" y2="125.72" stroke="#6a6a6a" stroke-width="1" shape-rendering="crispEdges"/>
<line x1="320.50" y1="145.96" x2="325.00" y2="145.96" stroke="#6a6a6a" stroke-width="1" shape-rendering="crispEdges"/>
<line x1="537.50" y1="145.96" x2="546.50" y2="145.96" stroke="#6a6a6a" stroke-width="1" shape-rendering="crispEdges"/>
<line x1="755.80" y1="145.96" x2="751.30" y2="145.96" stroke="#6a6a6a" stroke-width="1" shape-rendering="crispEdges"/>
<line x1="320.50" y1="166.20" x2="322.80" y2="166.20" stroke="#6a6a6a" stroke-width="1" shape-rendering="crispEdges"/>
<line x1="539.70" y1="166.20" x2="544.30" y2="166.20" stroke="#6a6a6a" stroke-width="1" shape-rendering="crispEdges"/>
<line x1="755.80" y1="166.20" x2="753.50" y2="166.20" stroke="#6a6a6a" stroke-width="1" shape-rendering="crispEdges"/>
<line x1="320.50" y1="186.44" x2="322.80" y2="186.44" stroke="#6a6a6a" stroke-width="1" shape-rendering="crispEdges"/>
<line x1="539.70" y1="186.44" x2="544.30" y2="186.44" stroke="#6a6a6a" stroke-width="1" shape-rendering="crispEdges"/>
<line x1="755.80" y1="186.44" x2="753.50" y2="186.44" stroke="#6a6a6a" stroke-width="1" shape-rendering="crispEdges"/>
<line x1="320.50" y1="206.68" x2="322.80" y2="206.68" stroke="#6a6a6a" stroke-width="1" shape-rendering="crispEdges"/>
<line x1="539.70" y1="206.68" x2="544.30" y2="206.68" stroke="#6a6a6a" stroke-width="1" shape-rendering="crispEdges"/>
<line x1="755.80" y1="206.68" x2="753.50" y2="206.68" stroke="#6a6a6a" stroke-width="1" shape-rendering="crispEdges"/>
<line x1="320.50" y1="226.92" x2="325.00" y2="226.92" stroke="#6a6a6a" stroke-width="1" shape-rendering="crispEdges"/>
<line x1="537.50" y1="226.92" x2="546.50" y2="226.92" stroke="#6a6a6a" stroke-width="1" shape-rendering="crispEdges"/>
<line x1="755.80" y1="226.92" x2="751.30" y2="226.92" stroke="#6a6a6a" stroke-width="1" shape-rendering="crispEdges"/>
<line x1="320.50" y1="247.16" x2="322.80" y2="247.16" stroke="#6a6a6a" stroke-width="1" shape-rendering="crispEdges"/>
<line x1="539.70" y1="247.16" x2="544.30" y2="247.16" stroke="#6a6a6a" stroke-width="1" shape-rendering="crispEdges"/>
<line x1="755.80" y1="247.16" x2="753.50" y2="247.16" stroke="#6a6a6a" stroke-width="1" shape-rendering="crispEdges"/>
<line x1="320.50" y1="267.40" x2="322.80" y2="267.40" stroke="#6a6a6a" stroke-width="1" shape-rendering="crispEdges"/>
<line x1="539.70" y1="267.40" x2="544.30" y2="267.40" stroke="#6a6a6a" stroke-width="1" shape-rendering="crispEdges"/>
<line x1="755.80" y1="267.40" x2="753.50" y2="267.40" stroke="#6a6a6a" stroke-width="1" shape-rendering="crispEdges"/>
<line x1="320.50" y1="287.64" x2="322.80" y2="287.64" stroke="#6a6a6a" stroke-width="1" shape-rendering="crispEdges"/>
<line x1="539.70" y1="287.64" x2="544.30" y2="287.64" stroke="#6a6a6a" stroke-width="1" shape-rendering="crispEdges"/>
<line x1="755.80" y1="287.64" x2="753.50" y2="287.64" stroke="#6a6a6a" stroke-width="1" shape-rendering="crispEdges"/>
<line x1="320.50" y1="307.88" x2="325.00" y2="307.88" stroke="#6a6a6a" stroke-width="1" shape-rendering="crispEdges"/>
<line x1="537.50" y1="307.88" x2="546.50" y2="307.88" stroke="#6a6a6a" stroke-width="1" shape-rendering="crispEdges"/>
<line x1="755.80" y1="307.88" x2="751.30" y2="307.88" stroke="#6a6a6a" stroke-width="1" shape-rendering="crispEdges"/>
<line x1="320.50" y1="328.12" x2="322.80" y2="328.12" stroke="#6a6a6a" stroke-width="1" shape-rendering="crispEdges"/>
<line x1="539.70" y1="328.12" x2="544.30" y2="328.12" stroke="#6a6a6a" stroke-width="1" shape-rendering="crispEdges"/>
<line x1="755.80" y1="328.12" x2="753.50" y2="328.12" stroke="#6a6a6a" stroke-width="1" shape-rendering="crispEdges"/>
<line x1="320.50" y1="348.36" x2="322.80" y2="348.36" stroke="#6a6a6a" stroke-width="1" shape-rendering="crispEdges"/>
<line x1="539.70" y1="348.36" x2="544.30" y2="348.36" stroke="#6a6a6a" stroke-width="1" shape-rendering="crispEdges"/>
<line x1="755.80" y1="348.36" x2="753.50" y2="348.36" stroke="#6a6a6a" stroke-width="1" shape-rendering="crispEdges"/>
<line x1="320.50" y1="368.60" x2="322.80" y2="368.60" stroke="#6a6a6a" stroke-width="1" shape-rendering="crispEdges"/>
<line x1="539.70" y1="368.60" x2="544.30" y2="368.60" stroke="#6a6a6a" stroke-width="1" shape-rendering="crispEdges"/>
<line x1="755.80" y1="368.60" x2="753.50" y2="368.60" stroke="#6a6a6a" stroke-width="1" shape-rendering="crispEdges"/>
<line x1="320.50" y1="388.84" x2="325.00" y2="388.84" stroke="#6a6a6a" stroke-width="1" shape-rendering="crispEdges"/>
<line x1="537.50" y1="388.84" x2="546.50" y2="388.84" stroke="#6a6a6a" stroke-width="1" shape-rendering="crispEdges"/>
<line x1="755.80" y1="388.84" x2="751.30" y2="388.84" stroke="#6a6a6a" stroke-width="1" shape-rendering="crispEdges"/>
<line x1="320.50" y1="409.08" x2="322.80" y2="409.08" stroke="#6a6a6a" stroke-width="1" shape-rendering="crispEdges"/>
<line x1="539.70" y1="409.08" x2="544.30" y2="409.08" stroke="#6a6a6a" stroke-width="1" shape-rendering="crispEdges"/>
<line x1="755.80" y1="409.08" x2="753.50" y2="409.08" stroke="#6a6a6a" stroke-width="1" shape-rendering="crispEdges"/>
<line x1="320.50" y1="429.32" x2="322.80" y2="429.32" stroke="#6a6a6a" stroke-width="1" shape-rendering="crispEdges"/>
<line x1="539.70" y1="429.32" x2="544.30" y2="429.32" stroke="#6a6a6a" stroke-width="1" shape-rendering="crispEdges"/>
<line x1="755.80" y1="429.32" x2="753.50" y2="429.32" stroke="#6a6a6a" stroke-width="1" shape-rendering="crispEdges"/>
<path d="M301.92 63.26 L302.76 62.84 L304.02 61.58 L304.02 70.40 M311.58 61.58 L310.32 62.00 L309.48 63.26 L309.06 65.36 L309.06 66.62 L309.48 68.72 L310.32 69.98 L311.58 70.40 L312.42 70.40 L313.68 69.98 L314.52 68.72 L314.94 66.62 L314.94 65.36 L314.52 63.26 L313.68 62.00 L312.42 61.58 L311.58 61.58" fill="none" stroke="#666" stroke-width="1.1" stroke-linecap="round" stroke-linejoin="round" />
<path d="M301.92 144.22 L302.76 143.80 L304.02 142.54 L304.02 151.36 M309.48 144.64 L309.48 144.22 L309.90 143.38 L310.32 142.96 L311.16 142.54 L312.84 142.54 L313.68 142.96 L314.10 143.38 L314.52 144.22 L314.52 145.06 L314.10 145.90 L313.26 147.16 L309.06 151.36 L314.94 151.36" fill="none" stroke="#666" stroke-width="1.1" stroke-linecap="round" stroke-linejoin="round" />
<path d="M301.92 225.18 L302.76 224.76 L304.02 223.50 L304.02 232.32 M313.26 223.50 L309.06 229.38 L315.36 229.38 M313.26 223.50 L313.26 232.32" fill="none" stroke="#666" stroke-width="1.1" stroke-linecap="round" stroke-linejoin="round" />
<path d="M301.92 306.14 L302.76 305.72 L304.02 304.46 L304.02 313.28 M314.52 305.72 L314.10 304.88 L312.84 304.46 L312.00 304.46 L310.74 304.88 L309.90 306.14 L309.48 308.24 L309.48 310.34 L309.90 312.02 L310.74 312.86 L312.00 313.28 L312.42 313.28 L313.68 312.86 L314.52 312.02 L314.94 310.76 L314.94 310.34 L314.52 309.08 L313.68 308.24 L312.42 307.82 L312.00 307.82 L310.74 308.24 L309.90 309.08 L309.48 310.34" fill="none" stroke="#666" stroke-width="1.1" stroke-linecap="round" stroke-linejoin="round" />
<path d="M301.92 387.10 L302.76 386.68 L304.02 385.42 L304.02 394.24 M311.16 385.42 L309.90 385.84 L309.48 386.68 L309.48 387.52 L309.90 388.36 L310.74 388.78 L312.42 389.20 L313.68 389.62 L314.52 390.46 L314.94 391.30 L314.94 392.56 L314.52 393.40 L314.10 393.82 L312.84 394.24 L311.16 394.24 L309.90 393.82 L309.48 393.40 L309.06 392.56 L309.06 391.30 L309.48 390.46 L310.32 389.62 L311.58 389.20 L313.26 388.78 L314.10 388.36 L314.52 387.52 L314.52 386.68 L314.10 385.84 L312.84 385.42 L311.16 385.42" fill="none" stroke="#666" stroke-width="1.1" stroke-linecap="round" stroke-linejoin="round" />
<path d="M-5.18 -9.24 L-5.18 0.00 M0.98 -9.24 L-5.18 -3.08 M-2.98 -5.28 L0.98 0.00 M6.12 0.52 L5.85 -0.03 L5.03 -0.30 L4.21 -0.30 L3.39 -0.03 L3.12 0.52 L3.39 1.06 L3.94 1.34 L5.30 1.61 L5.85 1.88 L6.12 2.43 L6.12 2.70 L5.85 3.25 L5.03 3.52 L4.21 3.52 L3.39 3.25 L3.12 2.70" fill="none" stroke="#666" stroke-width="1.1" stroke-linecap="round" stroke-linejoin="round" transform="translate(286.3,217.6) rotate(-90)"/>
<path d="M406.26 455.00 L405.38 455.88 L404.50 457.20 L403.62 458.96 L403.18 461.16 L403.18 462.92 L403.62 465.12 L404.50 466.88 L405.38 468.20 L406.26 469.08 M412.86 456.76 L412.86 463.80 L412.42 465.12 L411.98 465.56 L411.10 466.00 L410.22 466.00 L409.34 465.56 L408.90 465.12 L408.46 463.80 L408.46 462.92 M423.42 462.04 L431.34 462.04 M441.90 456.76 L441.90 466.00 M448.06 456.76 L441.90 462.92 M444.10 460.72 L448.06 466.00 M453.20 466.52 L452.93 465.97 L452.11 465.70 L451.29 465.70 L450.47 465.97 L450.20 466.52 L450.47 467.06 L451.02 467.34 L452.38 467.61 L452.93 467.88 L453.20 468.43 L453.20 468.70 L452.93 469.25 L452.11 469.52 L451.29 469.52 L450.47 469.25 L450.20 468.70 M455.34 455.00 L456.22 455.88 L457.10 457.20 L457.98 458.96 L458.42 461.16 L458.42 462.92 L457.98 465.12 L457.10 466.88 L456.22 468.20 L455.34 469.08" fill="none" stroke="#666" stroke-width="1.1" stroke-linecap="round" stroke-linejoin="round" />
<line x1="547.58" y1="429.30" x2="547.58" y2="424.90" stroke="#6a6a6a" stroke-width="1" shape-rendering="crispEdges"/>
<line x1="547.58" y1="4.40" x2="547.58" y2="8.80" stroke="#6a6a6a" stroke-width="1" shape-rendering="crispEdges"/>
<line x1="554.76" y1="429.30" x2="554.76" y2="424.90" stroke="#6a6a6a" stroke-width="1" shape-rendering="crispEdges"/>
<line x1="554.76" y1="4.40" x2="554.76" y2="8.80" stroke="#6a6a6a" stroke-width="1" shape-rendering="crispEdges"/>
<line x1="561.94" y1="429.30" x2="561.94" y2="424.90" stroke="#6a6a6a" stroke-width="1" shape-rendering="crispEdges"/>
<line x1="561.94" y1="4.40" x2="561.94" y2="8.80" stroke="#6a6a6a" stroke-width="1" shape-rendering="crispEdges"/>
<line x1="569.12" y1="429.30" x2="569.12" y2="424.90" stroke="#6a6a6a" stroke-width="1" shape-rendering="crispEdges"/>
<line x1="569.12" y1="4.40" x2="569.12" y2="8.80" stroke="#6a6a6a" stroke-width="1" shape-rendering="crispEdges"/>
<line x1="576.30" y1="429.30" x2="576.30" y2="424.90" stroke="#6a6a6a" stroke-width="1" shape-rendering="crispEdges"/>
<line x1="576.30" y1="4.40" x2="576.30" y2="8.80" stroke="#6a6a6a" stroke-width="1" shape-rendering="crispEdges"/>
<line x1="583.48" y1="429.30" x2="583.48" y2="424.90" stroke="#6a6a6a" stroke-width="1" shape-rendering="crispEdges"/>
<line x1="583.48" y1="4.40" x2="583.48" y2="8.80" stroke="#6a6a6a" stroke-width="1" shape-rendering="crispEdges"/>
<line x1="590.66" y1="429.30" x2="590.66" y2="424.90" stroke="#6a6a6a" stroke-width="1" shape-rendering="crispEdges"/>
<line x1="590.66" y1="4.40" x2="590.66" y2="8.80" stroke="#6a6a6a" stroke-width="1" shape-rendering="crispEdges"/>
<line x1="597.84" y1="429.30" x2="597.84" y2="424.90" stroke="#6a6a6a" stroke-width="1" shape-rendering="crispEdges"/>
<line x1="597.84" y1="4.40" x2="597.84" y2="8.80" stroke="#6a6a6a" stroke-width="1" shape-rendering="crispEdges"/>
<line x1="605.02" y1="429.30" x2="605.02" y2="424.90" stroke="#6a6a6a" stroke-width="1" shape-rendering="crispEdges"/>
<line x1="605.02" y1="4.40" x2="605.02" y2="8.80" stroke="#6a6a6a" stroke-width="1" shape-rendering="crispEdges"/>
<line x1="612.20" y1="429.30" x2="612.20" y2="420.70" stroke="#6a6a6a" stroke-width="1" shape-rendering="crispEdges"/>
<line x1="612.20" y1="4.40" x2="612.20" y2="13.00" stroke="#6a6a6a" stroke-width="1" shape-rendering="crispEdges"/>
<line x1="619.38" y1="429.30" x2="619.38" y2="424.90" stroke="#6a6a6a" stroke-width="1" shape-rendering="crispEdges"/>
<line x1="619.38" y1="4.40" x2="619.38" y2="8.80" stroke="#6a6a6a" stroke-width="1" shape-rendering="crispEdges"/>
<line x1="626.56" y1="429.30" x2="626.56" y2="424.90" stroke="#6a6a6a" stroke-width="1" shape-rendering="crispEdges"/>
<line x1="626.56" y1="4.40" x2="626.56" y2="8.80" stroke="#6a6a6a" stroke-width="1" shape-rendering="crispEdges"/>
<line x1="633.74" y1="429.30" x2="633.74" y2="424.90" stroke="#6a6a6a" stroke-width="1" shape-rendering="crispEdges"/>
<line x1="633.74" y1="4.40" x2="633.74" y2="8.80" stroke="#6a6a6a" stroke-width="1" shape-rendering="crispEdges"/>
<line x1="640.92" y1="429.30" x2="640.92" y2="424.90" stroke="#6a6a6a" stroke-width="1" shape-rendering="crispEdges"/>
<line x1="640.92" y1="4.40" x2="640.92" y2="8.80" stroke="#6a6a6a" stroke-width="1" shape-rendering="crispEdges"/>
<line x1="648.10" y1="429.30" x2="648.10" y2="424.90" stroke="#6a6a6a" stroke-width="1" shape-rendering="crispEdges"/>
<line x1="648.10" y1="4.40" x2="648.10" y2="8.80" stroke="#6a6a6a" stroke-width="1" shape-rendering="crispEdges"/>
<line x1="655.28" y1="429.30" x2="655.28" y2="424.90" stroke="#6a6a6a" stroke-width="1" shape-rendering="crispEdges"/>
<line x1="655.28" y1="4.40" x2="655.28" y2="8.80" stroke="#6a6a6a" stroke-width="1" shape-rendering="crispEdges"/>
<line x1="662.46" y1="429.30" x2="662.46" y2="424.90" stroke="#6a6a6a" stroke-width="1" shape-rendering="crispEdges"/>
<line x1="662.46" y1="4.40" x2="662.46" y2="8.80" stroke="#6a6a6a" stroke-width="1" shape-rendering="crispEdges"/>
<line x1="669.64" y1="429.30" x2="669.64" y2="424.90" stroke="#6a6a6a" stroke-width="1" shape-rendering="crispEdges"/>
<line x1="669.64" y1="4.40" x2="669.64" y2="8.80" stroke="#6a6a6a" stroke-width="1" shape-rendering="crispEdges"/>
<line x1="676.82" y1="429.30" x2="676.82" y2="424.90" stroke="#6a6a6a" stroke-width="1" shape-rendering="crispEdges"/>
<line x1="676.82" y1="4.40" x2="676.82" y2="8.80" stroke="#6a6a6a" stroke-width="1" shape-rendering="crispEdges"/>
<line x1="684.00" y1="429.30" x2="684.00" y2="420.70" stroke="#6a6a6a" stroke-width="1" shape-rendering="crispEdges"/>
<line x1="684.00" y1="4.40" x2="684.00" y2="13.00" stroke="#6a6a6a" stroke-width="1" shape-rendering="crispEdges"/>
<line x1="691.18" y1="429.30" x2="691.18" y2="424.90" stroke="#6a6a6a" stroke-width="1" shape-rendering="crispEdges"/>
<line x1="691.18" y1="4.40" x2="691.18" y2="8.80" stroke="#6a6a6a" stroke-width="1" shape-rendering="crispEdges"/>
<line x1="698.36" y1="429.30" x2="698.36" y2="424.90" stroke="#6a6a6a" stroke-width="1" shape-rendering="crispEdges"/>
<line x1="698.36" y1="4.40" x2="698.36" y2="8.80" stroke="#6a6a6a" stroke-width="1" shape-rendering="crispEdges"/>
<line x1="705.54" y1="429.30" x2="705.54" y2="424.90" stroke="#6a6a6a" stroke-width="1" shape-rendering="crispEdges"/>
<line x1="705.54" y1="4.40" x2="705.54" y2="8.80" stroke="#6a6a6a" stroke-width="1" shape-rendering="crispEdges"/>
<line x1="712.72" y1="429.30" x2="712.72" y2="424.90" stroke="#6a6a6a" stroke-width="1" shape-rendering="crispEdges"/>
<line x1="712.72" y1="4.40" x2="712.72" y2="8.80" stroke="#6a6a6a" stroke-width="1" shape-rendering="crispEdges"/>
<line x1="719.90" y1="429.30" x2="719.90" y2="424.90" stroke="#6a6a6a" stroke-width="1" shape-rendering="crispEdges"/>
<line x1="719.90" y1="4.40" x2="719.90" y2="8.80" stroke="#6a6a6a" stroke-width="1" shape-rendering="crispEdges"/>
<line x1="727.08" y1="429.30" x2="727.08" y2="424.90" stroke="#6a6a6a" stroke-width="1" shape-rendering="crispEdges"/>
<line x1="727.08" y1="4.40" x2="727.08" y2="8.80" stroke="#6a6a6a" stroke-width="1" shape-rendering="crispEdges"/>
<line x1="734.26" y1="429.30" x2="734.26" y2="424.90" stroke="#6a6a6a" stroke-width="1" shape-rendering="crispEdges"/>
<line x1="734.26" y1="4.40" x2="734.26" y2="8.80" stroke="#6a6a6a" stroke-width="1" shape-rendering="crispEdges"/>
<line x1="741.44" y1="429.30" x2="741.44" y2="424.90" stroke="#6a6a6a" stroke-width="1" shape-rendering="crispEdges"/>
<line x1="741.44" y1="4.40" x2="741.44" y2="8.80" stroke="#6a6a6a" stroke-width="1" shape-rendering="crispEdges"/>
<line x1="748.62" y1="429.30" x2="748.62" y2="424.90" stroke="#6a6a6a" stroke-width="1" shape-rendering="crispEdges"/>
<line x1="748.62" y1="4.40" x2="748.62" y2="8.80" stroke="#6a6a6a" stroke-width="1" shape-rendering="crispEdges"/>
<line x1="755.80" y1="429.30" x2="755.80" y2="420.70" stroke="#6a6a6a" stroke-width="1" shape-rendering="crispEdges"/>
<line x1="755.80" y1="4.40" x2="755.80" y2="13.00" stroke="#6a6a6a" stroke-width="1" shape-rendering="crispEdges"/>
<path d="M611.38 440.48 L610.12 440.90 L609.28 442.16 L608.86 444.26 L608.86 445.52 L609.28 447.62 L610.12 448.88 L611.38 449.30 L612.22 449.30 L613.48 448.88 L614.32 447.62 L614.74 445.52 L614.74 444.26 L614.32 442.16 L613.48 440.90 L612.22 440.48 L611.38 440.48" fill="none" stroke="#666" stroke-width="1.1" stroke-linecap="round" stroke-linejoin="round" />
<path d="M681.92 442.16 L682.76 441.74 L684.02 440.48 L684.02 449.30" fill="none" stroke="#666" stroke-width="1.1" stroke-linecap="round" stroke-linejoin="round" />
<path d="M751.28 442.58 L751.28 442.16 L751.70 441.32 L752.12 440.90 L752.96 440.48 L754.64 440.48 L755.48 440.90 L755.90 441.32 L756.32 442.16 L756.32 443.00 L755.90 443.84 L755.06 445.10 L750.86 449.30 L756.74 449.30" fill="none" stroke="#666" stroke-width="1.1" stroke-linecap="round" stroke-linejoin="round" />
<text x="636.4" y="466.5" font-size="13" fill="#444">Q<tspan font-size="8.3" dy="3.0" dx="0.4">NIR</tspan></text>
</svg>
</body></html>
